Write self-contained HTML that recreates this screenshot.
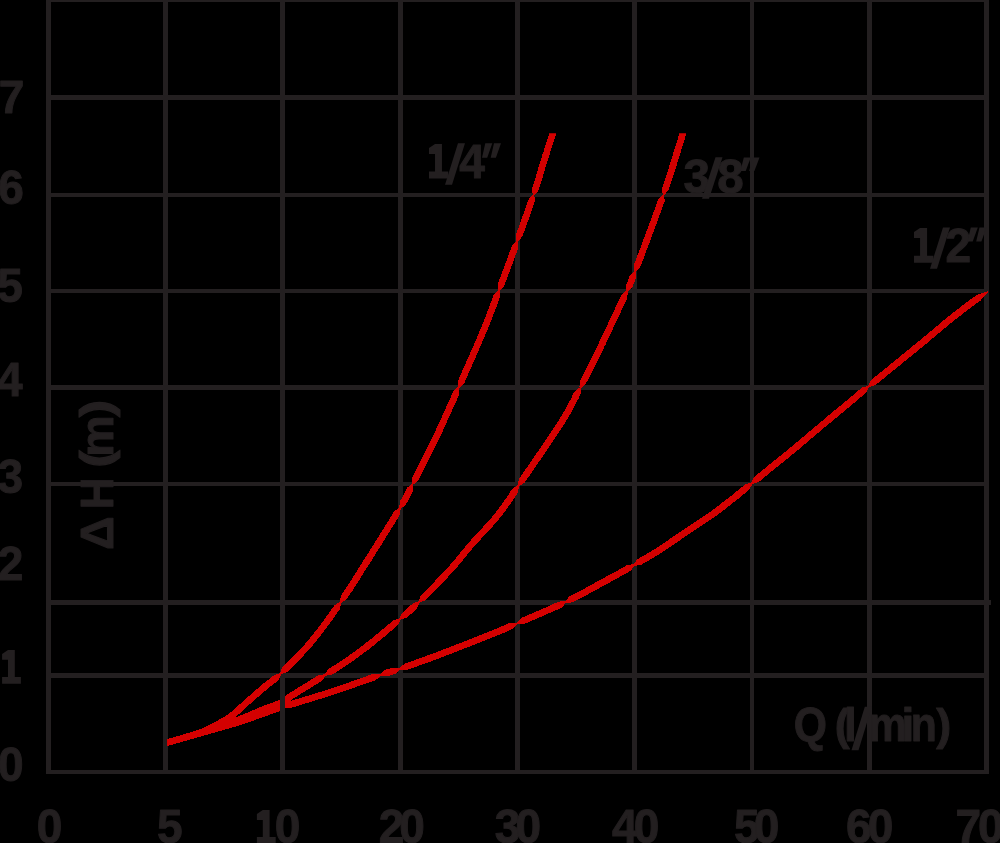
<!DOCTYPE html>
<html><head><meta charset="utf-8"><title>chart</title>
<style>
html,body{margin:0;padding:0;background:#000;}
body{width:1000px;height:843px;overflow:hidden;}
svg{display:block;will-change:transform;}
text{font-family:"Liberation Sans",sans-serif;font-weight:bold;}
</style></head><body>
<svg width="1000" height="843" viewBox="0 0 1000 843">
<rect width="1000" height="843" fill="#000"/>
<g fill="#231f20" shape-rendering="crispEdges">
<rect x="46" y="0" width="5" height="774"/>
<rect x="163" y="0" width="5" height="774"/>
<rect x="280" y="0" width="5" height="774"/>
<rect x="398" y="0" width="5" height="774"/>
<rect x="515" y="0" width="5" height="774"/>
<rect x="632" y="0" width="5" height="774"/>
<rect x="750" y="0" width="4" height="774"/>
<rect x="867" y="0" width="5" height="774"/>
<rect x="984" y="0" width="5" height="774"/>
<rect x="46" y="0" width="943" height="2"/>
<rect x="46" y="95" width="943" height="5"/>
<rect x="46" y="193" width="943" height="4"/>
<rect x="46" y="289" width="943" height="4"/>
<rect x="46" y="385" width="943" height="5"/>
<rect x="46" y="482" width="943" height="4"/>
<rect x="46" y="600" width="943" height="5"/>
<rect x="46" y="673" width="943" height="5"/>
<rect x="46" y="770" width="943" height="4"/>
</g>
<g fill="#231f20" stroke="#231f20" stroke-linejoin="round">
<text transform="translate(-1.27 113.22) scale(0.950 0.960)" font-size="48.5" stroke-width="1">7</text>
<text transform="translate(-1.63 203.90) scale(0.950 1.000)" font-size="48.5" stroke-width="1">6</text>
<text transform="translate(-2.72 301.50) scale(0.950 1.000)" font-size="48.5" stroke-width="1">5</text>
<text transform="translate(-3.05 395.50) scale(0.950 1.000)" font-size="48.5" stroke-width="1">4</text>
<text transform="translate(-2.53 492.90) scale(0.950 1.000)" font-size="48.5" stroke-width="1">3</text>
<text transform="translate(-2.35 580.10) scale(0.950 1.000)" font-size="48.5" stroke-width="1">2</text>
<path stroke="none" d="M2.10 683.80 L20.90 683.80 L20.90 677.00 L14.80 677.00 L14.80 650.00 L8.00 650.00 L2.10 653.90 L2.10 659.80 L8.00 659.80 L8.00 677.00 L2.10 677.00Z"/>
<text transform="translate(-1.91 781.20) scale(0.950 1.000)" font-size="48.5" stroke-width="1">0</text>
<text transform="translate(36.65 843.10) scale(0.950 1.000)" font-size="48.5" stroke-width="1">0</text>
<text transform="translate(157.06 843.10) scale(0.950 1.000)" font-size="48.5" stroke-width="1">5</text>
<path stroke="none" d="M256.90 843.90 L275.70 843.90 L275.70 837.10 L269.60 837.10 L269.60 810.10 L262.80 810.10 L256.90 814.00 L256.90 819.90 L262.80 819.90 L262.80 837.10 L256.90 837.10Z"/>
<text transform="translate(274.75 843.10) scale(0.950 1.000)" font-size="48.5" stroke-width="1">0</text>
<text transform="translate(378.68 843.10) scale(0.950 1.000)" font-size="48.5" stroke-width="1">2</text>
<text transform="translate(399.29 843.10) scale(0.950 1.000)" font-size="48.5" stroke-width="1">0</text>
<text transform="translate(494.82 843.10) scale(0.950 1.000)" font-size="48.5" stroke-width="1">3</text>
<text transform="translate(515.59 843.10) scale(0.950 1.000)" font-size="48.5" stroke-width="1">0</text>
<text transform="translate(611.98 843.10) scale(0.950 1.000)" font-size="48.5" stroke-width="1">4</text>
<text transform="translate(633.69 843.10) scale(0.950 1.000)" font-size="48.5" stroke-width="1">0</text>
<text transform="translate(733.96 843.10) scale(0.950 1.000)" font-size="48.5" stroke-width="1">5</text>
<text transform="translate(753.79 843.10) scale(0.950 1.000)" font-size="48.5" stroke-width="1">0</text>
<text transform="translate(845.99 843.10) scale(0.950 1.000)" font-size="48.5" stroke-width="1">6</text>
<text transform="translate(867.79 843.10) scale(0.950 1.000)" font-size="48.5" stroke-width="1">0</text>
<text transform="translate(955.60 843.10) scale(0.950 1.000)" font-size="48.5" stroke-width="1">7</text>
<text transform="translate(977.95 843.10) scale(0.950 1.000)" font-size="48.5" stroke-width="1">0</text>
<path stroke="none" d="M429.00 178.50 L448.19 178.50 L448.19 171.56 L441.96 171.56 L441.96 144.00 L435.02 144.00 L429.00 147.98 L429.00 154.00 L435.02 154.00 L435.02 171.56 L429.00 171.56Z"/>
<path stroke="none" d="M445.00 184.80 L452.00 184.80 L465.00 143.20 L458.00 143.20Z"/>
<text transform="translate(459.28 178.00) scale(0.950 1.000)" font-size="48.5" stroke-width="1">4</text>
<path stroke="none" d="M485.30 143.20 L492.30 143.20 L487.20 157.80 L482.00 157.80Z"/>
<path stroke="none" d="M494.00 143.20 L501.00 143.20 L495.90 157.80 L490.70 157.80Z"/>
<text transform="translate(683.40 192.50) scale(0.980 1.000)" font-size="48.5" stroke-width="1">3</text>
<path stroke="none" d="M702.00 198.80 L709.00 198.80 L722.50 157.30 L715.50 157.30Z"/>
<text transform="translate(717.28 192.50) scale(0.980 1.000)" font-size="48.5" stroke-width="1">8</text>
<path stroke="none" d="M743.80 157.50 L750.80 157.50 L745.70 171.00 L740.50 171.00Z"/>
<path stroke="none" d="M752.50 157.50 L759.50 157.50 L754.40 171.00 L749.20 171.00Z"/>
<path stroke="none" d="M914.00 262.80 L933.36 262.80 L933.36 255.80 L927.08 255.80 L927.08 228.00 L920.07 228.00 L914.00 232.02 L914.00 238.09 L920.07 238.09 L920.07 255.80 L914.00 255.80Z"/>
<path stroke="none" d="M930.00 268.80 L937.00 268.80 L950.00 227.50 L943.00 227.50Z"/>
<text transform="translate(945.38 262.30) scale(0.950 1.000)" font-size="48.5" stroke-width="1">2</text>
<path stroke="none" d="M970.80 227.50 L977.80 227.50 L972.70 241.50 L967.50 241.50Z"/>
<path stroke="none" d="M979.50 227.50 L986.50 227.50 L981.40 241.50 L976.20 241.50Z"/>
<text transform="translate(793.69 741.40) scale(0.880 1.000)" font-size="48.5" stroke-width="1">Q</text>
<text transform="translate(834.68 740.10) scale(1.030 1.000)" font-size="43.6" stroke-width="1">(</text>
<text transform="translate(843.89 741.40) scale(0.980 1.000)" font-size="46.8" stroke-width="1">l</text>
<path stroke="none" d="M851.50 750.20 L858.50 750.20 L871.80 706.80 L864.80 706.80Z"/>
<text transform="translate(868.63 741.40) scale(0.880 1.000)" font-size="48.5" stroke-width="1">m</text>
<text transform="translate(901.59 741.40) scale(0.980 1.000)" font-size="46.8" stroke-width="1">i</text>
<text transform="translate(910.83 741.40) scale(0.880 1.000)" font-size="48.5" stroke-width="1">n</text>
<text transform="translate(936.37 740.10) scale(1.030 1.000)" font-size="43.6" stroke-width="1">)</text>
<text transform="translate(112.70 550.08) rotate(-90) scale(1.030 1.000)" font-size="45.5" stroke-width="1">Δ</text>
<text transform="translate(112.70 509.27) rotate(-90) scale(0.970 1.000)" font-size="45.5" stroke-width="1">H</text>
<text transform="translate(111.30 467.83) rotate(-90) scale(1.200 1.000)" font-size="44" stroke-width="1">(</text>
<text transform="translate(112.70 456.67) rotate(-90) scale(1.000 1.000)" font-size="46.5" stroke-width="1">m</text>
<text transform="translate(111.30 417.25) rotate(-90) scale(1.200 1.000)" font-size="44" stroke-width="1">)</text>
</g>
<defs><clipPath id="cc"><rect x="167.3" y="133.3" width="840" height="640"/></clipPath></defs>
<g fill="#d40000" clip-path="url(#cc)" shape-rendering="crispEdges">
<path d="M160.7 747.6 161.2 747.5 161.8 747.3 162.5 747.2 163.4 747.0 164.5 746.8 165.8 746.4 167.5 746.0 168.7 745.6 169.5 745.4 170.3 745.2 171.1 745.0 172.0 744.7 172.9 744.4 173.9 744.2 174.9 743.9 176.0 743.6 177.0 743.3 178.1 742.9 179.2 742.6 180.3 742.3 181.4 742.0 182.5 741.7 183.6 741.3 184.6 741.0 185.7 740.7 186.7 740.4 187.7 740.1 188.7 739.8 189.6 739.5 190.6 739.2 191.6 738.9 192.7 738.6 193.7 738.3 194.7 737.9 195.7 737.6 196.7 737.3 197.7 737.0 198.6 736.7 199.6 736.4 200.5 736.1 201.4 735.8 202.4 735.4 203.4 735.1 204.3 734.7 205.3 734.3 206.3 733.9 207.3 733.5 208.2 733.1 209.1 732.6 210.1 732.2 211.0 731.7 212.0 731.2 212.9 730.7 213.9 730.3 214.8 729.8 215.7 729.3 216.7 728.8 217.6 728.3 218.5 727.8 219.4 727.3 220.2 726.8 221.1 726.3 221.9 725.9 222.7 725.4 223.7 724.8 224.6 724.3 225.5 723.8 226.3 723.3 227.2 722.8 228.0 722.3 228.8 721.7 229.6 721.2 230.5 720.6 231.3 720.0 232.2 719.4 233.1 718.7 234.1 718.0 235.1 717.2 235.8 716.7 236.5 716.1 237.2 715.5 238.0 714.8 238.7 714.2 239.5 713.5 240.3 712.8 241.0 712.1 241.8 711.4 242.6 710.7 243.4 710.0 244.2 709.3 245.0 708.5 245.8 707.8 246.6 707.1 247.4 706.4 248.1 705.7 248.9 705.0 249.7 704.3 250.5 703.6 251.2 702.9 252.0 702.3 252.7 701.6 253.5 700.9 254.3 700.3 255.0 699.6 255.8 698.9 256.5 698.3 257.3 697.6 258.1 696.9 258.8 696.3 259.6 695.6 260.4 695.0 261.1 694.3 261.9 693.7 262.6 693.0 263.4 692.4 264.2 691.7 264.9 691.1 265.7 690.4 266.4 689.8 267.2 689.2 267.9 688.5 268.6 688.0 269.3 687.4 270.0 686.9 270.6 686.4 271.3 685.9 271.9 685.4 272.6 684.9 273.3 684.4 274.0 683.8 274.7 683.3 275.4 682.7 276.2 682.1 277.0 681.4 277.8 680.7 278.6 679.7 279.2 678.5 279.8 677.2 280.5 675.9 281.1 674.4 279.9 673.0 278.4 673.6 277.0 674.1 275.7 674.6 274.4 675.0 273.5 675.6 272.7 676.3 271.9 676.9 271.2 677.5 270.5 678.0 269.9 678.5 269.2 679.0 268.5 679.5 267.9 680.0 267.2 680.5 266.5 681.1 265.9 681.6 265.1 682.2 264.4 682.7 263.6 683.4 262.8 684.0 262.1 684.7 261.3 685.3 260.6 686.0 259.8 686.6 259.0 687.3 258.3 687.9 257.5 688.6 256.8 689.2 256.0 689.9 255.2 690.6 254.5 691.2 253.7 691.9 252.9 692.5 252.2 693.2 251.4 693.9 250.6 694.5 249.9 695.2 249.1 695.9 248.3 696.5 247.6 697.2 246.8 697.9 246.0 698.6 245.2 699.3 244.4 700.0 243.6 700.7 242.8 701.4 242.1 702.1 241.3 702.9 240.5 703.6 239.7 704.3 238.9 705.0 238.1 705.7 237.3 706.4 236.6 707.1 235.8 707.8 235.1 708.5 234.3 709.1 233.6 709.7 232.9 710.3 232.2 710.9 231.6 711.5 230.9 712.0 230.0 712.7 229.1 713.4 228.3 714.0 227.5 714.6 226.7 715.1 225.9 715.6 225.2 716.1 224.4 716.6 223.7 717.0 222.9 717.5 222.1 718.0 221.2 718.5 220.3 719.0 219.3 719.6 218.5 720.1 217.7 720.5 216.9 721.0 216.1 721.5 215.2 721.9 214.4 722.4 213.5 722.9 212.6 723.4 211.7 723.8 210.8 724.3 209.9 724.8 209.0 725.2 208.1 725.7 207.2 726.1 206.3 726.5 205.4 727.0 204.5 727.3 203.7 727.7 202.8 728.1 201.9 728.5 201.0 728.8 200.1 729.1 199.2 729.5 198.3 729.8 197.4 730.1 196.5 730.4 195.6 730.7 194.7 730.9 193.8 731.2 192.8 731.5 191.8 731.8 190.7 732.2 189.7 732.5 188.6 732.8 187.6 733.1 186.7 733.4 185.7 733.7 184.8 734.0 183.8 734.3 182.7 734.6 181.7 734.9 180.6 735.2 179.5 735.6 178.4 735.9 177.3 736.2 176.2 736.5 175.2 736.8 174.1 737.1 173.1 737.4 172.1 737.7 171.1 738.0 170.2 738.3 169.3 738.5 168.4 738.8 167.7 739.0 166.9 739.2 165.7 739.5 164.1 739.9 162.9 740.2 161.9 740.5 161.1 740.6 160.4 740.8 159.8 740.9 159.3 741.0Z M281.1 674.4 281.9 674.1 282.7 673.8 283.5 673.4 284.3 673.1 285.1 672.8 286.0 672.4 286.8 672.1 287.6 671.6 288.2 670.9 288.9 670.3 289.5 669.7 290.2 669.0 290.9 668.3 291.6 667.6 292.3 667.0 293.0 666.3 293.7 665.5 294.5 664.8 295.2 664.1 295.9 663.4 296.7 662.6 297.4 661.9 298.2 661.1 299.0 660.3 299.7 659.5 300.5 658.8 301.2 658.0 302.0 657.2 302.8 656.4 303.5 655.6 304.3 654.7 305.1 653.9 305.8 653.1 306.6 652.3 307.4 651.4 308.1 650.6 308.9 649.7 309.6 648.9 310.4 648.0 311.1 647.2 311.8 646.3 312.6 645.5 313.2 644.7 313.8 644.0 314.4 643.3 315.0 642.6 315.6 641.8 316.2 641.1 316.8 640.3 317.4 639.6 318.0 638.8 318.6 638.1 319.2 637.3 319.8 636.5 320.4 635.7 321.0 635.0 321.6 634.2 322.2 633.4 322.8 632.6 323.4 631.8 324.1 631.0 324.7 630.2 325.3 629.4 325.9 628.6 326.5 627.8 327.1 626.9 327.7 626.1 328.3 625.3 328.9 624.5 329.5 623.6 330.1 622.8 330.7 622.0 331.4 621.1 332.0 620.3 332.6 619.4 333.2 618.6 333.8 617.8 334.4 616.9 335.0 616.1 335.6 615.2 336.2 614.3 336.8 613.5 337.4 612.6 338.0 611.8 338.6 610.9 339.2 610.0 339.8 609.1 340.0 608.0 340.3 606.9 340.5 605.8 340.8 604.7 341.0 603.6 340.4 602.5 339.2 602.3 338.2 602.9 337.3 603.5 336.3 604.1 335.4 604.8 334.4 605.4 333.8 606.2 333.1 607.1 332.5 607.9 331.9 608.8 331.3 609.6 330.7 610.5 330.1 611.3 329.5 612.2 328.9 613.0 328.3 613.9 327.7 614.7 327.1 615.5 326.5 616.4 325.9 617.2 325.3 618.0 324.7 618.9 324.1 619.7 323.5 620.5 322.9 621.3 322.3 622.1 321.7 622.9 321.1 623.8 320.5 624.6 319.9 625.4 319.3 626.2 318.7 627.0 318.1 627.7 317.5 628.5 316.9 629.3 316.3 630.1 315.7 630.9 315.1 631.6 314.5 632.4 313.9 633.1 313.3 633.9 312.7 634.6 312.2 635.4 311.6 636.1 311.0 636.9 310.4 637.6 309.8 638.3 309.2 639.0 308.6 639.7 308.0 640.4 307.4 641.1 306.7 642.0 306.0 642.8 305.3 643.6 304.6 644.5 303.9 645.3 303.1 646.1 302.4 646.9 301.6 647.7 300.9 648.5 300.2 649.4 299.4 650.2 298.7 651.0 297.9 651.7 297.2 652.5 296.4 653.3 295.7 654.1 294.9 654.9 294.2 655.6 293.4 656.4 292.7 657.1 291.9 657.9 291.2 658.6 290.5 659.3 289.8 660.1 289.0 660.8 288.3 661.5 287.6 662.2 286.9 662.9 286.2 663.5 285.5 664.2 284.9 664.8 284.2 665.5 283.6 666.1 282.9 666.7 282.4 667.4 282.0 668.3 281.6 669.1 281.2 669.9 280.9 670.7 280.5 671.5 280.2 672.3 279.9 673.0Z M341.2 603.0 342.0 602.5 342.9 601.9 343.8 601.3 344.6 600.7 345.5 600.1 346.4 599.5 347.0 598.8 347.5 597.9 348.1 597.1 348.6 596.3 349.2 595.5 349.7 594.6 350.3 593.8 350.8 593.0 351.4 592.1 351.9 591.3 352.5 590.5 353.0 589.6 353.6 588.8 354.1 587.9 354.7 587.1 355.2 586.2 355.8 585.4 356.3 584.5 356.8 583.7 357.4 582.8 357.9 582.0 358.5 581.1 359.0 580.2 359.6 579.4 360.1 578.5 360.7 577.7 361.2 576.8 361.7 575.9 362.3 575.1 362.8 574.2 363.4 573.4 363.9 572.5 364.4 571.6 365.0 570.8 365.5 569.9 366.1 569.0 366.6 568.2 367.2 567.3 367.7 566.5 368.2 565.6 368.8 564.7 369.3 563.9 369.8 563.0 370.4 562.2 370.9 561.3 371.5 560.5 372.0 559.6 372.5 558.8 373.1 557.9 373.6 557.1 374.1 556.2 374.7 555.3 375.2 554.5 375.8 553.6 376.3 552.7 376.9 551.8 377.5 550.9 378.0 550.0 378.6 549.1 379.2 548.2 379.8 547.3 380.3 546.4 380.9 545.5 381.5 544.5 382.1 543.6 382.6 542.7 383.2 541.8 383.8 540.8 384.4 539.9 385.0 539.0 385.5 538.1 386.1 537.1 386.7 536.2 387.3 535.3 387.8 534.4 388.4 533.4 389.0 532.5 389.6 531.6 390.1 530.7 390.7 529.8 391.2 528.9 391.8 528.0 392.3 527.1 392.9 526.3 393.4 525.4 393.9 524.5 394.5 523.7 395.0 522.8 395.5 522.0 396.0 521.1 396.5 520.3 397.0 519.5 397.5 518.7 398.0 517.9 398.5 517.1 399.0 516.3 399.4 515.6 399.8 514.7 399.9 513.8 400.0 512.9 400.2 512.0 400.3 511.2 400.5 510.3 400.6 509.5 400.7 508.7 399.1 507.7 398.4 508.2 397.8 508.7 397.1 509.2 396.4 509.8 395.7 510.3 395.0 510.9 394.2 511.4 393.7 512.1 393.2 512.9 392.8 513.6 392.3 514.4 391.8 515.2 391.3 516.0 390.8 516.8 390.3 517.6 389.8 518.5 389.3 519.3 388.8 520.2 388.2 521.0 387.7 521.9 387.2 522.7 386.6 523.6 386.1 524.5 385.5 525.4 385.0 526.3 384.4 527.2 383.9 528.1 383.3 529.0 382.7 529.9 382.2 530.8 381.6 531.7 381.0 532.7 380.4 533.6 379.9 534.5 379.3 535.4 378.7 536.4 378.1 537.3 377.5 538.2 377.0 539.1 376.4 540.1 375.8 541.0 375.2 541.9 374.7 542.8 374.1 543.7 373.5 544.6 372.9 545.5 372.4 546.4 371.8 547.3 371.2 548.2 370.7 549.1 370.1 550.0 369.6 550.9 369.0 551.8 368.5 552.6 367.9 553.5 367.4 554.3 366.9 555.2 366.3 556.0 365.8 556.9 365.2 557.8 364.7 558.6 364.2 559.5 363.6 560.3 363.1 561.2 362.6 562.0 362.0 562.9 361.5 563.8 360.9 564.6 360.4 565.5 359.9 566.3 359.3 567.2 358.8 568.1 358.2 568.9 357.7 569.8 357.2 570.7 356.6 571.5 356.1 572.4 355.5 573.2 355.0 574.1 354.4 574.9 353.9 575.8 353.4 576.7 352.8 577.5 352.3 578.4 351.7 579.2 351.2 580.1 350.7 580.9 350.1 581.8 349.6 582.6 349.0 583.4 348.5 584.3 347.9 585.1 347.4 586.0 346.9 586.8 346.3 587.6 345.8 588.5 345.2 589.3 344.7 590.1 344.1 590.9 343.6 591.8 343.1 592.6 342.5 593.4 342.0 594.2 341.4 595.0 341.0 595.9 340.7 596.9 340.5 597.9 340.3 598.9 340.1 599.9 339.9 601.0 339.6 602.0Z M400.7 508.7 402.0 507.7 403.2 506.8 404.3 505.9 405.3 505.1 406.1 504.2 406.6 503.3 407.1 502.4 407.5 501.6 408.0 500.8 408.4 500.0 408.8 499.3 409.2 498.6 409.5 497.8 409.9 497.1 410.2 496.4 410.6 495.7 410.9 495.0 411.3 494.3 411.7 493.5 412.1 492.7 412.5 491.8 412.9 491.0 413.1 489.8 413.2 488.6 413.3 487.3 413.4 485.9 413.5 484.4 411.9 483.6 410.7 484.6 409.7 485.5 408.7 486.4 407.8 487.2 406.9 488.0 406.5 488.9 406.1 489.7 405.7 490.5 405.3 491.3 404.9 492.0 404.6 492.7 404.2 493.4 403.9 494.1 403.6 494.8 403.2 495.5 402.8 496.2 402.5 496.9 402.1 497.6 401.7 498.4 401.2 499.2 400.7 500.0 400.2 500.9 399.9 502.0 399.7 503.3 399.5 504.7 399.3 506.1 399.1 507.7Z M413.5 484.4 414.2 483.9 414.8 483.3 415.5 482.7 416.2 482.1 416.8 481.5 417.5 480.9 418.3 480.3 418.7 479.6 419.1 478.8 419.6 478.0 420.0 477.1 420.4 476.3 420.8 475.5 421.3 474.6 421.7 473.7 422.2 472.9 422.6 472.0 423.1 471.1 423.5 470.2 424.0 469.3 424.4 468.4 424.9 467.5 425.4 466.5 425.9 465.6 426.3 464.7 426.8 463.7 427.3 462.8 427.8 461.8 428.2 460.9 428.7 459.9 429.2 458.9 429.7 458.0 430.2 457.0 430.7 456.0 431.2 455.1 431.6 454.1 432.1 453.1 432.6 452.1 433.1 451.1 433.6 450.2 434.1 449.2 434.5 448.2 435.0 447.2 435.5 446.2 436.0 445.3 436.4 444.3 436.9 443.3 437.4 442.4 437.8 441.4 438.3 440.4 438.7 439.5 439.1 438.6 439.6 437.8 440.0 436.9 440.4 436.0 440.8 435.1 441.2 434.2 441.6 433.3 442.0 432.5 442.5 431.6 442.9 430.7 443.3 429.8 443.7 428.9 444.1 428.0 444.5 427.1 444.9 426.2 445.4 425.3 445.8 424.4 446.2 423.5 446.6 422.6 447.0 421.7 447.4 420.7 447.8 419.8 448.2 418.9 448.7 418.0 449.1 417.1 449.5 416.2 449.9 415.2 450.3 414.3 450.7 413.4 451.1 412.5 451.6 411.5 452.0 410.6 452.4 409.7 452.8 408.8 453.2 407.8 453.6 406.9 454.1 406.0 454.5 405.0 454.9 404.1 455.3 403.1 455.7 402.2 456.2 401.3 456.6 400.3 457.0 399.4 457.4 398.4 457.8 397.5 458.3 396.5 458.7 395.6 459.1 394.6 459.3 393.5 459.3 392.4 459.3 391.3 459.4 390.1 459.4 389.0 459.5 387.9 457.7 387.1 456.9 387.9 456.1 388.7 455.3 389.5 454.5 390.3 453.7 391.1 453.0 391.9 452.6 392.8 452.1 393.8 451.7 394.7 451.3 395.7 450.9 396.6 450.5 397.6 450.0 398.5 449.6 399.5 449.2 400.4 448.8 401.4 448.4 402.3 447.9 403.2 447.5 404.2 447.1 405.1 446.7 406.0 446.3 407.0 445.9 407.9 445.4 408.8 445.0 409.7 444.6 410.7 444.2 411.6 443.8 412.5 443.4 413.4 443.0 414.3 442.6 415.2 442.1 416.2 441.7 417.1 441.3 418.0 440.9 418.9 440.5 419.8 440.1 420.7 439.7 421.6 439.3 422.5 438.8 423.4 438.4 424.3 438.0 425.2 437.6 426.1 437.2 427.0 436.8 427.9 436.4 428.7 436.0 429.6 435.6 430.5 435.1 431.4 434.7 432.3 434.3 433.1 433.9 434.0 433.5 434.9 433.1 435.8 432.7 436.6 432.2 437.5 431.8 438.5 431.3 439.5 430.9 440.4 430.4 441.4 429.9 442.3 429.5 443.3 429.0 444.3 428.5 445.3 428.0 446.2 427.6 447.2 427.1 448.2 426.6 449.2 426.1 450.1 425.6 451.1 425.2 452.1 424.7 453.0 424.2 454.0 423.7 455.0 423.2 455.9 422.7 456.9 422.3 457.9 421.8 458.8 421.3 459.8 420.8 460.7 420.3 461.6 419.9 462.6 419.4 463.5 418.9 464.4 418.5 465.4 418.0 466.3 417.5 467.2 417.1 468.1 416.6 468.9 416.2 469.8 415.7 470.7 415.3 471.6 414.9 472.4 414.4 473.3 414.0 474.1 413.6 474.9 413.2 475.7 412.8 476.5 412.4 477.3 412.3 478.3 412.3 479.2 412.2 480.1 412.1 481.0 412.0 481.9 411.9 482.7 411.9 483.6Z M459.5 387.9 460.2 387.2 461.0 386.4 461.7 385.7 462.5 384.9 463.3 384.2 464.0 383.4 464.5 382.5 464.9 381.6 465.3 380.7 465.7 379.7 466.1 378.8 466.6 377.9 467.0 376.9 467.4 376.0 467.8 375.0 468.2 374.1 468.7 373.1 469.1 372.1 469.5 371.2 470.0 370.2 470.4 369.2 470.8 368.3 471.2 367.3 471.7 366.3 472.1 365.4 472.5 364.4 472.9 363.4 473.4 362.5 473.8 361.5 474.2 360.5 474.6 359.6 475.1 358.6 475.5 357.7 475.9 356.7 476.3 355.7 476.7 354.8 477.2 353.8 477.6 352.9 478.0 351.9 478.4 351.0 478.8 350.1 479.2 349.1 479.6 348.2 480.0 347.3 480.4 346.4 480.8 345.5 481.2 344.6 481.6 343.6 482.0 342.8 482.3 341.9 482.7 341.0 483.1 340.1 483.5 339.2 483.8 338.4 484.2 337.5 484.5 336.7 484.9 335.8 485.2 335.0 485.6 334.2 485.9 333.4 486.3 332.4 486.8 331.3 487.2 330.3 487.7 329.2 488.1 328.2 488.5 327.1 488.9 326.1 489.3 325.2 489.7 324.2 490.1 323.2 490.4 322.3 490.8 321.3 491.2 320.4 491.5 319.5 491.9 318.6 492.2 317.7 492.6 316.8 492.9 315.9 493.3 315.0 493.6 314.1 493.9 313.3 494.3 312.4 494.6 311.5 494.9 310.7 495.3 309.8 495.6 308.9 495.9 308.1 496.2 307.2 496.6 306.3 496.9 305.4 497.2 304.5 497.5 303.7 497.9 302.8 498.2 301.9 498.6 300.9 498.9 300.0 499.2 299.1 499.6 298.1 499.7 297.1 499.7 296.0 499.7 294.8 499.6 293.7 499.6 292.5 499.6 291.3 497.8 290.7 497.0 291.5 496.2 292.4 495.4 293.3 494.7 294.1 493.9 294.9 493.3 295.8 493.0 296.7 492.6 297.7 492.3 298.6 491.9 299.5 491.6 300.4 491.3 301.3 490.9 302.2 490.6 303.1 490.3 304.0 490.0 304.8 489.6 305.7 489.3 306.6 489.0 307.4 488.7 308.3 488.3 309.2 488.0 310.0 487.7 310.9 487.3 311.7 487.0 312.6 486.7 313.5 486.3 314.4 486.0 315.3 485.7 316.1 485.3 317.0 484.9 318.0 484.6 318.9 484.2 319.8 483.8 320.7 483.5 321.7 483.1 322.7 482.7 323.6 482.3 324.6 481.9 325.6 481.5 326.7 481.0 327.7 480.6 328.8 480.1 329.9 479.7 330.8 479.4 331.6 479.1 332.4 478.7 333.3 478.4 334.1 478.0 334.9 477.7 335.8 477.3 336.6 476.9 337.5 476.6 338.4 476.2 339.2 475.8 340.1 475.4 341.0 475.0 341.9 474.6 342.8 474.3 343.7 473.9 344.6 473.5 345.5 473.1 346.5 472.7 347.4 472.3 348.3 471.8 349.3 471.4 350.2 471.0 351.2 470.6 352.1 470.2 353.1 469.8 354.0 469.4 355.0 468.9 355.9 468.5 356.9 468.1 357.8 467.7 358.8 467.2 359.8 466.8 360.7 466.4 361.7 466.0 362.7 465.5 363.6 465.1 364.6 464.7 365.6 464.3 366.5 463.8 367.5 463.4 368.5 463.0 369.4 462.5 370.4 462.1 371.3 461.7 372.3 461.3 373.2 460.9 374.2 460.4 375.1 460.0 376.1 459.6 377.0 459.2 378.0 458.8 378.9 458.4 379.8 458.0 380.7 457.9 381.8 457.9 382.9 457.9 384.0 457.8 385.0 457.8 386.1 457.7 387.1Z M499.6 291.3 500.2 290.6 500.9 289.9 501.6 289.1 502.3 288.4 503.0 287.6 503.7 286.9 504.2 286.0 504.5 285.1 504.8 284.2 505.2 283.3 505.5 282.3 505.9 281.4 506.2 280.5 506.6 279.5 506.9 278.6 507.3 277.6 507.6 276.7 508.0 275.7 508.4 274.8 508.7 273.8 509.1 272.8 509.4 271.9 509.8 270.9 510.2 269.9 510.5 269.0 510.9 268.0 511.2 267.0 511.6 266.0 512.0 265.1 512.3 264.1 512.7 263.1 513.0 262.1 513.4 261.1 513.8 260.2 514.1 259.2 514.5 258.2 514.8 257.3 515.2 256.3 515.5 255.3 515.9 254.3 516.3 253.4 516.6 252.4 517.0 251.5 517.3 250.5 517.6 249.6 518.0 248.6 518.3 247.7 518.3 246.6 518.2 245.5 518.2 244.5 518.2 243.4 518.1 242.4 518.1 241.3 516.3 240.7 515.6 241.5 514.9 242.2 514.2 243.0 513.5 243.8 512.8 244.6 512.1 245.4 511.7 246.3 511.4 247.3 511.0 248.2 510.7 249.2 510.3 250.1 510.0 251.1 509.6 252.0 509.3 253.0 508.9 254.0 508.5 254.9 508.2 255.9 507.8 256.9 507.5 257.9 507.1 258.8 506.8 259.8 506.4 260.8 506.0 261.8 505.7 262.7 505.3 263.7 505.0 264.7 504.6 265.7 504.2 266.6 503.9 267.6 503.5 268.6 503.2 269.5 502.8 270.5 502.4 271.5 502.1 272.4 501.7 273.4 501.4 274.3 501.0 275.3 500.7 276.2 500.3 277.2 500.0 278.1 499.6 279.1 499.3 280.0 498.9 280.9 498.6 281.8 498.2 282.7 497.9 283.7 497.7 284.6 497.7 285.6 497.7 286.7 497.8 287.7 497.8 288.7 497.8 289.7 497.8 290.7Z M518.1 241.3 518.8 240.5 519.6 239.6 520.4 238.8 521.1 237.9 521.9 237.1 522.5 236.2 522.9 235.2 523.2 234.2 523.6 233.2 524.0 232.1 524.3 231.1 524.7 230.1 525.1 229.1 525.4 228.1 525.8 227.1 526.1 226.1 526.5 225.1 526.9 224.1 527.2 223.1 527.6 222.2 527.9 221.2 528.3 220.2 528.6 219.2 529.0 218.2 529.3 217.2 529.7 216.3 530.0 215.3 530.3 214.3 530.7 213.4 531.0 212.4 531.4 211.5 531.7 210.5 532.0 209.6 532.3 208.7 532.7 207.7 533.0 206.8 533.3 205.9 533.6 205.0 533.9 204.1 534.2 203.2 534.5 202.4 534.7 201.5 534.7 200.5 534.6 199.5 534.6 198.6 534.5 197.6 534.5 196.7 534.4 195.8 533.5 195.0 532.3 195.0 531.7 195.7 531.1 196.5 530.5 197.2 529.9 197.9 529.2 198.6 528.6 199.4 528.2 200.2 527.9 201.1 527.6 201.9 527.3 202.8 527.0 203.7 526.7 204.6 526.3 205.5 526.0 206.5 525.7 207.4 525.4 208.3 525.0 209.2 524.7 210.2 524.4 211.1 524.0 212.1 523.7 213.1 523.3 214.0 523.0 215.0 522.7 216.0 522.3 216.9 522.0 217.9 521.6 218.9 521.3 219.9 520.9 220.9 520.5 221.9 520.2 222.9 519.8 223.9 519.5 224.9 519.1 225.9 518.7 226.9 518.4 227.9 518.0 228.9 517.7 229.9 517.3 230.9 516.9 231.9 516.6 232.9 516.2 233.9 516.1 235.0 516.2 236.1 516.2 237.3 516.2 238.4 516.3 239.5 516.3 240.7Z M534.4 195.3 535.3 194.3 536.1 193.3 536.9 192.3 537.7 191.3 538.5 190.4 538.9 189.3 539.2 188.2 539.5 187.2 539.9 186.2 540.2 185.2 540.5 184.2 540.8 183.2 541.1 182.3 541.4 181.3 541.6 180.4 541.9 179.4 542.2 178.5 542.5 177.6 542.7 176.7 543.0 175.8 543.3 174.9 543.5 174.0 543.8 173.1 544.0 172.2 544.3 171.3 544.6 170.4 544.9 169.5 545.1 168.6 545.4 167.7 545.7 166.8 546.0 165.9 546.3 165.0 546.6 164.0 546.9 163.0 547.2 162.0 547.5 161.0 547.8 159.9 548.2 158.9 548.5 157.9 548.8 156.8 549.2 155.7 549.5 154.7 549.8 153.6 550.2 152.5 550.5 151.5 550.9 150.4 551.2 149.4 551.5 148.3 551.9 147.3 552.2 146.3 552.5 145.3 552.8 144.3 553.1 143.3 553.4 142.4 553.7 141.4 554.0 140.5 554.3 139.6 554.6 138.8 554.8 138.0 555.1 137.2 555.3 136.4 555.6 135.7 555.8 135.0 556.0 134.3 556.6 132.4 557.1 130.9 557.5 129.5 557.8 128.4 558.1 127.5 558.3 126.7 558.5 126.0 558.7 125.5 558.9 125.0 559.0 124.5 552.6 122.5 552.4 123.0 552.3 123.6 552.1 124.1 551.9 124.8 551.7 125.5 551.4 126.5 551.1 127.6 550.7 128.9 550.2 130.4 549.6 132.3 549.4 132.9 549.2 133.6 549.0 134.4 548.7 135.1 548.5 135.9 548.2 136.7 547.9 137.6 547.6 138.5 547.3 139.4 547.1 140.3 546.7 141.3 546.4 142.2 546.1 143.2 545.8 144.2 545.5 145.3 545.1 146.3 544.8 147.3 544.5 148.4 544.1 149.4 543.8 150.5 543.5 151.6 543.1 152.6 542.8 153.7 542.4 154.8 542.1 155.8 541.8 156.9 541.4 157.9 541.1 159.0 540.8 160.0 540.5 161.0 540.2 162.0 539.9 163.0 539.6 163.9 539.3 164.9 539.0 165.8 538.7 166.7 538.4 167.6 538.2 168.5 537.9 169.4 537.6 170.3 537.4 171.2 537.1 172.1 536.8 173.0 536.6 173.9 536.3 174.8 536.0 175.7 535.8 176.6 535.5 177.5 535.2 178.5 534.9 179.4 534.7 180.3 534.4 181.3 534.1 182.2 533.8 183.2 533.5 184.2 533.2 185.2 532.8 186.2 532.5 187.3 532.2 188.3 532.3 189.5 532.4 190.8 532.4 192.1 532.5 193.4 532.6 194.7Z"/>
<path d="M160.6 747.6 160.9 747.5 161.0 747.5 161.5 747.5 162.2 747.4 163.3 747.1 164.8 746.7 167.0 746.1 168.7 745.6 169.3 745.5 170.0 745.3 170.7 745.1 171.4 744.9 172.2 744.6 173.0 744.4 173.8 744.2 174.7 743.9 175.5 743.7 176.4 743.4 177.4 743.1 178.3 742.9 179.3 742.6 180.3 742.3 181.3 742.0 182.3 741.7 183.4 741.4 184.4 741.1 185.5 740.8 186.6 740.4 187.6 740.1 188.7 739.8 189.8 739.5 190.9 739.1 192.0 738.8 193.1 738.5 194.2 738.2 195.3 737.8 196.3 737.5 197.4 737.2 198.5 736.9 199.5 736.5 200.6 736.2 201.6 735.9 202.6 735.6 203.6 735.3 204.6 734.9 205.6 734.6 206.5 734.3 207.5 734.0 208.5 733.7 209.5 733.4 210.5 733.0 211.5 732.7 212.5 732.4 213.5 732.0 214.5 731.7 215.5 731.4 216.5 731.0 217.5 730.7 218.5 730.4 219.5 730.0 220.5 729.7 221.5 729.3 222.5 729.0 223.5 728.7 224.5 728.3 225.5 728.0 226.5 727.6 227.4 727.3 228.4 727.0 229.3 726.6 230.3 726.3 231.2 726.0 232.1 725.6 233.1 725.3 234.0 725.0 234.9 724.7 235.7 724.3 236.6 724.0 237.5 723.7 238.3 723.4 239.2 723.1 240.0 722.8 240.8 722.5 241.8 722.1 242.9 721.7 244.1 721.2 245.2 720.8 246.3 720.4 247.3 719.9 248.3 719.5 249.3 719.1 250.3 718.7 251.3 718.3 252.2 717.9 253.1 717.5 254.0 717.1 254.9 716.7 255.8 716.3 256.7 715.9 257.5 715.6 258.4 715.2 259.2 714.8 260.1 714.5 260.9 714.1 261.7 713.7 262.6 713.4 263.4 713.1 264.2 712.7 265.3 712.3 266.3 711.9 267.3 711.5 268.4 711.1 269.4 710.7 270.5 710.4 271.5 710.0 272.6 709.6 273.6 709.2 274.6 708.9 275.6 708.5 276.6 708.2 277.6 707.8 278.5 707.5 279.4 707.1 280.3 706.8 281.2 706.4 282.0 706.1 282.8 705.7 283.6 705.4 282.5 702.2 280.7 699.3 280.1 699.6 279.4 699.9 278.7 700.2 277.9 700.5 277.0 700.9 276.2 701.2 275.2 701.5 274.3 701.9 273.3 702.2 272.3 702.6 271.3 702.9 270.3 703.3 269.2 703.7 268.2 704.1 267.1 704.5 266.0 704.8 265.0 705.2 263.9 705.7 262.8 706.1 261.8 706.5 260.9 706.8 260.0 707.2 259.1 707.6 258.3 707.9 257.4 708.3 256.6 708.7 255.7 709.0 254.8 709.4 254.0 709.8 253.1 710.2 252.2 710.6 251.4 710.9 250.5 711.3 249.6 711.7 248.6 712.1 247.7 712.5 246.7 712.9 245.8 713.3 244.8 713.7 243.8 714.1 242.7 714.6 241.6 715.0 240.5 715.4 239.4 715.8 238.4 716.2 237.6 716.5 236.8 716.8 236.0 717.1 235.2 717.4 234.3 717.7 233.5 718.0 232.6 718.4 231.7 718.7 230.8 719.0 229.9 719.3 229.0 719.6 228.0 720.0 227.1 720.3 226.2 720.6 225.2 721.0 224.2 721.3 223.3 721.6 222.3 722.0 221.3 722.3 220.4 722.7 219.4 723.0 218.4 723.3 217.4 723.7 216.4 724.0 215.4 724.3 214.4 724.7 213.4 725.0 212.4 725.4 211.4 725.7 210.4 726.0 209.4 726.3 208.4 726.7 207.4 727.0 206.4 727.3 205.4 727.6 204.5 728.0 203.5 728.3 202.6 728.6 201.6 728.9 200.6 729.2 199.6 729.5 198.6 729.8 197.6 730.1 196.5 730.4 195.5 730.8 194.4 731.1 193.3 731.4 192.2 731.7 191.2 732.1 190.1 732.4 189.0 732.7 187.9 733.1 186.8 733.4 185.7 733.7 184.7 734.0 183.6 734.3 182.5 734.6 181.5 735.0 180.4 735.3 179.4 735.6 178.4 735.8 177.4 736.1 176.5 736.4 175.5 736.7 174.6 737.0 173.7 737.2 172.8 737.5 171.9 737.7 171.1 738.0 170.3 738.2 169.6 738.4 168.8 738.6 168.1 738.8 167.5 739.0 166.9 739.2 165.2 739.7 163.1 740.3 161.7 740.6 160.9 740.8 160.6 740.8 160.4 740.9 159.9 740.9 159.4 741.0Z M282.9 703.0 284.6 702.9 286.1 702.6 287.4 702.3 288.5 701.9 289.5 701.5 290.2 700.9 290.8 700.4 291.3 700.0 291.9 699.5 292.8 699.0 293.6 698.4 294.4 697.9 295.3 697.3 296.1 696.8 297.0 696.3 297.9 695.7 298.8 695.1 299.6 694.6 300.4 694.1 301.2 693.6 302.0 693.1 302.9 692.6 303.7 692.1 304.6 691.5 305.6 691.0 306.6 690.4 307.4 689.9 308.2 689.3 309.1 688.8 309.9 688.3 310.8 687.7 311.7 687.1 312.7 686.6 313.6 686.0 314.5 685.4 315.4 684.9 316.3 684.3 317.2 683.8 318.0 683.3 318.7 682.9 319.4 682.4 320.2 682.0 320.9 681.6 321.7 681.1 322.4 680.3 323.1 679.4 323.8 678.3 324.7 677.1 325.7 675.8 324.7 674.2 323.1 674.5 321.6 674.7 320.4 675.0 319.2 675.1 318.2 675.4 317.5 675.8 316.7 676.2 316.0 676.7 315.3 677.1 314.5 677.6 313.7 678.1 312.8 678.6 311.9 679.2 311.0 679.7 310.1 680.3 309.1 680.9 308.2 681.4 307.3 682.0 306.4 682.6 305.5 683.1 304.7 683.6 303.8 684.2 303.0 684.6 302.1 685.2 301.1 685.8 300.2 686.4 299.4 686.9 298.5 687.4 297.7 687.9 296.9 688.4 296.0 688.9 295.2 689.5 294.3 690.0 293.4 690.6 292.6 691.1 291.7 691.7 290.8 692.2 289.9 692.8 289.0 693.4 288.1 694.1 287.2 694.7 286.4 695.4 285.7 696.0 285.2 696.6 284.8 697.4 284.4 698.2 283.9 699.1 283.1 700.1 282.1 701.4Z M325.7 675.8 326.5 675.6 327.4 675.5 328.2 675.3 329.2 675.2 330.1 675.0 331.1 674.8 332.1 674.6 332.9 674.1 333.8 673.6 334.6 673.1 335.5 672.5 336.4 671.9 337.3 671.4 338.2 670.8 339.2 670.2 340.1 669.6 341.0 669.0 342.0 668.4 342.9 667.8 343.8 667.2 344.8 666.5 345.7 665.9 346.6 665.3 347.6 664.7 348.5 664.1 349.3 663.5 350.1 662.9 350.9 662.4 351.6 661.9 352.4 661.3 353.2 660.8 354.0 660.2 354.7 659.7 355.5 659.1 356.3 658.6 357.0 658.0 357.8 657.5 358.6 656.9 359.4 656.3 360.2 655.7 361.0 655.2 361.8 654.6 362.6 654.0 363.4 653.4 364.2 652.7 365.0 652.1 365.9 651.5 366.7 650.8 367.6 650.1 368.5 649.5 369.3 648.8 370.2 648.1 371.2 647.4 372.1 646.6 372.8 646.1 373.5 645.5 374.2 644.9 374.9 644.3 375.7 643.7 376.5 643.1 377.2 642.5 378.0 641.9 378.8 641.2 379.6 640.5 380.4 639.9 381.2 639.2 382.0 638.5 382.8 637.9 383.7 637.2 384.5 636.5 385.3 635.8 386.2 635.1 387.0 634.4 387.8 633.7 388.6 633.0 389.5 632.3 390.3 631.6 391.1 631.0 391.9 630.3 392.7 629.6 393.5 628.9 394.3 628.3 395.1 627.6 395.9 626.9 396.6 626.3 397.4 625.7 397.9 624.8 398.4 623.9 398.9 623.1 399.3 622.2 399.8 621.3 400.2 620.5 400.6 619.7 399.4 618.3 398.5 618.6 397.7 618.9 396.7 619.2 395.8 619.5 394.9 619.8 393.9 620.1 393.0 620.6 392.3 621.2 391.5 621.8 390.7 622.5 390.0 623.1 389.2 623.8 388.4 624.5 387.6 625.2 386.8 625.8 386.0 626.5 385.2 627.2 384.3 627.9 383.5 628.6 382.7 629.3 381.9 630.0 381.0 630.7 380.2 631.3 379.4 632.0 378.6 632.7 377.8 633.4 376.9 634.1 376.1 634.7 375.3 635.4 374.5 636.0 373.8 636.7 373.0 637.3 372.2 637.9 371.5 638.5 370.7 639.1 370.0 639.7 369.3 640.3 368.6 640.8 367.9 641.4 367.0 642.1 366.1 642.8 365.2 643.5 364.3 644.2 363.5 644.8 362.6 645.5 361.8 646.1 361.0 646.8 360.2 647.4 359.4 648.0 358.6 648.6 357.8 649.2 357.0 649.8 356.2 650.3 355.4 650.9 354.7 651.5 353.9 652.0 353.1 652.6 352.4 653.1 351.6 653.7 350.8 654.2 350.1 654.8 349.3 655.3 348.6 655.8 347.8 656.4 347.0 656.9 346.3 657.4 345.5 658.0 344.7 658.5 343.8 659.1 342.9 659.7 342.0 660.4 341.1 661.0 340.2 661.6 339.2 662.2 338.3 662.8 337.4 663.4 336.5 664.0 335.6 664.5 334.6 665.1 333.7 665.7 332.8 666.3 331.9 666.8 331.1 667.4 330.2 667.9 329.4 668.4 328.5 669.0 327.9 669.8 327.3 670.6 326.8 671.4 326.2 672.1 325.7 672.8 325.2 673.5 324.7 674.2Z M400.6 619.7 401.9 619.3 403.1 618.9 404.3 618.5 405.3 618.1 406.4 617.8 407.2 617.2 407.9 616.6 408.6 616.0 409.3 615.5 410.0 614.9 410.7 614.3 411.3 613.7 412.0 613.2 412.6 612.6 413.3 612.0 414.0 611.4 414.7 610.7 415.4 610.1 416.1 609.4 416.9 608.7 417.4 607.6 418.0 606.5 418.5 605.3 419.1 604.0 419.7 602.7 418.3 601.3 417.0 601.9 415.7 602.4 414.5 602.9 413.4 603.3 412.3 603.8 411.6 604.5 410.8 605.2 410.2 605.8 409.5 606.4 408.8 607.0 408.2 607.6 407.5 608.1 406.9 608.7 406.3 609.2 405.6 609.8 405.0 610.4 404.3 610.9 403.6 611.5 402.9 612.1 402.2 612.9 401.7 613.9 401.2 614.9 400.6 616.0 400.0 617.1 399.4 618.3Z M419.7 602.7 420.5 602.3 421.3 602.0 422.1 601.6 423.0 601.3 423.9 600.9 424.8 600.5 425.7 600.1 426.4 599.4 427.0 598.7 427.7 598.0 428.4 597.3 429.1 596.6 429.9 595.9 430.6 595.1 431.3 594.4 432.1 593.6 432.8 592.9 433.6 592.1 434.3 591.4 435.1 590.6 435.8 589.8 436.6 589.0 437.4 588.2 438.1 587.4 438.9 586.7 439.6 585.9 440.4 585.1 441.1 584.3 441.9 583.5 442.6 582.7 443.4 582.0 444.1 581.2 444.8 580.4 445.6 579.7 446.3 578.9 447.0 578.2 447.7 577.4 448.3 576.7 449.0 576.0 449.7 575.3 450.3 574.6 451.0 573.9 451.6 573.2 452.2 572.6 452.9 571.8 453.7 570.9 454.5 570.1 455.2 569.2 456.0 568.3 456.7 567.5 457.4 566.7 458.1 565.9 458.8 565.1 459.4 564.3 460.1 563.5 460.7 562.7 461.4 561.9 462.0 561.2 462.6 560.4 463.2 559.7 463.8 558.9 464.4 558.2 465.0 557.4 465.6 556.7 466.2 556.0 466.8 555.2 467.4 554.5 468.0 553.8 468.6 553.0 469.3 552.3 469.9 551.6 470.5 550.8 471.1 550.1 471.8 549.3 472.4 548.6 473.1 547.8 473.7 547.0 474.4 546.3 475.0 545.6 475.7 544.8 476.4 544.1 477.1 543.3 477.8 542.5 478.5 541.8 479.2 541.0 479.9 540.2 480.6 539.5 481.3 538.7 482.1 537.9 482.8 537.1 483.5 536.3 484.2 535.6 485.0 534.8 485.7 534.0 486.4 533.2 487.1 532.5 487.8 531.7 488.5 531.0 489.2 530.2 489.9 529.4 490.6 528.7 491.3 528.0 491.9 527.2 492.6 526.5 493.2 525.8 493.9 525.1 494.5 524.4 495.1 523.7 495.7 523.0 496.3 522.3 497.0 521.5 497.7 520.5 498.5 519.6 499.2 518.7 500.0 517.8 500.7 516.9 501.3 516.1 502.0 515.2 502.6 514.4 503.3 513.6 503.9 512.8 504.5 512.0 505.0 511.2 505.6 510.4 506.2 509.6 506.7 508.8 507.3 508.1 507.8 507.3 508.3 506.6 508.9 505.8 509.4 505.1 509.9 504.4 510.4 503.7 510.9 502.9 511.6 502.0 512.1 501.2 512.6 500.5 513.1 499.8 513.5 499.2 513.9 498.6 514.3 498.0 514.6 497.5 515.0 496.9 515.4 496.3 515.8 495.6 516.3 494.8 516.9 494.0 517.5 493.0 517.9 491.7 518.3 490.2 518.6 488.4 519.1 486.3 517.5 485.3 515.8 486.4 514.3 487.5 512.9 488.4 511.9 489.3 511.3 490.3 510.7 491.2 510.2 492.0 509.7 492.7 509.3 493.3 509.0 493.9 508.6 494.4 508.3 495.0 507.9 495.5 507.5 496.1 507.1 496.7 506.6 497.4 506.1 498.2 505.5 499.1 505.0 499.8 504.4 500.5 503.9 501.2 503.4 502.0 502.9 502.7 502.4 503.4 501.8 504.2 501.3 504.9 500.7 505.7 500.2 506.4 499.6 507.2 499.1 508.0 498.5 508.7 497.9 509.5 497.3 510.3 496.7 511.1 496.0 512.0 495.4 512.8 494.7 513.6 494.0 514.5 493.3 515.4 492.6 516.3 491.8 517.2 491.2 518.0 490.6 518.6 490.0 519.3 489.5 519.9 488.9 520.6 488.2 521.3 487.6 522.0 487.0 522.7 486.3 523.4 485.7 524.2 485.0 524.9 484.3 525.7 483.6 526.4 482.9 527.2 482.2 527.9 481.5 528.7 480.8 529.5 480.1 530.2 479.3 531.0 478.6 531.8 477.9 532.6 477.2 533.3 476.4 534.1 475.7 534.9 475.0 535.7 474.3 536.5 473.5 537.2 472.8 538.0 472.1 538.8 471.4 539.6 470.7 540.3 470.1 541.1 469.4 541.9 468.7 542.6 468.0 543.4 467.3 544.2 466.7 545.0 466.0 545.7 465.4 546.5 464.7 547.3 464.1 548.0 463.5 548.8 462.9 549.5 462.3 550.3 461.6 551.0 461.0 551.7 460.4 552.5 459.8 553.2 459.2 554.0 458.6 554.7 458.0 555.4 457.4 556.2 456.8 556.9 456.2 557.7 455.6 558.4 455.0 559.2 454.3 560.0 453.7 560.8 453.0 561.5 452.3 562.3 451.6 563.1 450.9 563.9 450.2 564.8 449.5 565.6 448.7 566.4 447.9 567.3 447.2 568.1 446.6 568.7 446.0 569.4 445.4 570.0 444.8 570.7 444.1 571.4 443.5 572.1 442.8 572.9 442.1 573.6 441.4 574.3 440.7 575.1 440.0 575.8 439.3 576.6 438.5 577.3 437.8 578.1 437.1 578.9 436.3 579.7 435.6 580.4 434.8 581.2 434.1 582.0 433.3 582.8 432.5 583.6 431.8 584.3 431.0 585.1 430.3 585.9 429.5 586.7 428.8 587.4 428.0 588.2 427.3 589.0 426.6 589.7 425.8 590.4 425.1 591.2 424.4 591.9 423.7 592.6 423.0 593.3 422.3 594.0 421.6 594.7 420.9 595.4 420.5 596.3 420.1 597.2 419.8 598.0 419.4 598.9 419.0 599.7 418.7 600.5 418.3 601.3Z M519.1 486.3 519.7 485.9 520.3 485.5 521.0 485.1 521.7 484.6 522.4 484.1 523.1 483.6 523.9 483.1 524.6 482.6 525.1 481.8 525.6 481.1 526.1 480.3 526.7 479.5 527.2 478.7 527.8 477.9 528.4 477.1 529.0 476.2 529.6 475.4 530.2 474.5 530.8 473.6 531.4 472.7 532.0 471.9 532.6 470.9 533.3 470.0 533.9 469.1 534.5 468.2 535.2 467.3 535.8 466.3 536.5 465.4 537.1 464.5 537.8 463.5 538.4 462.6 539.1 461.7 539.7 460.7 540.3 459.8 541.0 458.9 541.6 457.9 542.3 457.0 542.9 456.1 543.5 455.2 544.1 454.3 544.7 453.4 545.4 452.5 546.0 451.6 546.5 450.8 547.1 449.9 547.7 449.1 548.3 448.3 548.8 447.4 549.4 446.6 549.9 445.9 550.4 445.1 550.9 444.3 551.4 443.6 551.9 442.9 552.4 442.2 553.0 441.3 553.7 440.2 554.4 439.2 555.1 438.1 555.7 437.1 556.4 436.1 557.0 435.1 557.7 434.2 558.3 433.2 558.9 432.3 559.5 431.4 560.0 430.5 560.6 429.7 561.2 428.8 561.7 428.0 562.2 427.1 562.7 426.3 563.3 425.5 563.8 424.7 564.3 423.9 564.8 423.1 565.2 422.4 565.7 421.6 566.2 420.8 566.7 420.0 567.1 419.3 567.6 418.5 568.1 417.7 568.5 417.0 569.0 416.2 569.4 415.4 569.9 414.6 570.3 413.9 570.8 413.1 571.4 412.1 571.9 411.1 572.5 410.1 573.0 409.2 573.5 408.3 574.0 407.3 574.5 406.4 574.9 405.5 575.4 404.6 575.9 403.8 576.3 402.9 576.7 402.0 577.2 401.1 577.6 400.3 578.0 399.4 578.5 398.5 578.9 397.7 579.3 396.8 579.7 395.9 580.2 395.0 580.5 394.1 580.6 393.0 580.7 391.9 580.8 390.8 580.9 389.7 581.0 388.5 580.2 387.5 578.9 387.5 578.0 388.2 577.2 389.0 576.3 389.8 575.5 390.5 574.7 391.2 574.2 392.1 573.7 393.0 573.3 393.9 572.9 394.7 572.4 395.6 572.0 396.5 571.6 397.3 571.2 398.2 570.8 399.0 570.3 399.9 569.9 400.7 569.4 401.6 569.0 402.4 568.5 403.3 568.1 404.2 567.6 405.1 567.1 406.0 566.6 406.9 566.1 407.8 565.6 408.8 565.0 409.7 564.6 410.5 564.1 411.3 563.7 412.0 563.2 412.8 562.8 413.5 562.3 414.3 561.9 415.0 561.4 415.8 560.9 416.5 560.5 417.3 560.0 418.1 559.5 418.8 559.1 419.6 558.6 420.4 558.1 421.1 557.6 421.9 557.1 422.7 556.6 423.5 556.1 424.4 555.5 425.2 555.0 426.0 554.4 426.9 553.9 427.8 553.3 428.7 552.7 429.6 552.1 430.5 551.4 431.5 550.8 432.4 550.2 433.4 549.5 434.4 548.8 435.5 548.1 436.5 547.4 437.6 546.8 438.5 546.3 439.2 545.9 439.9 545.4 440.6 544.9 441.3 544.3 442.1 543.8 442.9 543.3 443.7 542.7 444.5 542.2 445.3 541.6 446.1 541.0 447.0 540.4 447.9 539.8 448.7 539.2 449.6 538.6 450.5 538.0 451.4 537.4 452.3 536.7 453.2 536.1 454.1 535.5 455.1 534.8 456.0 534.2 456.9 533.5 457.9 532.9 458.8 532.3 459.7 531.6 460.7 531.0 461.6 530.3 462.5 529.7 463.5 529.0 464.4 528.4 465.3 527.8 466.2 527.1 467.1 526.5 468.0 525.9 468.9 525.3 469.8 524.7 470.7 524.1 471.6 523.5 472.4 522.9 473.3 522.3 474.1 521.7 474.9 521.2 475.7 520.6 476.5 520.1 477.3 519.6 478.0 519.1 478.8 518.8 479.6 518.6 480.5 518.4 481.4 518.2 482.2 518.0 483.0 517.8 483.8 517.7 484.6 517.5 485.3Z M581.0 387.9 581.8 387.3 582.6 386.6 583.4 385.9 584.2 385.2 585.0 384.5 585.8 383.8 586.3 382.9 586.8 381.9 587.3 381.0 587.8 380.1 588.2 379.1 588.7 378.2 589.2 377.2 589.7 376.3 590.2 375.3 590.7 374.4 591.1 373.4 591.6 372.5 592.1 371.5 592.6 370.6 593.0 369.7 593.5 368.7 594.0 367.8 594.4 366.9 594.9 366.0 595.3 365.2 595.7 364.3 596.2 363.4 596.6 362.6 597.0 361.8 597.4 361.0 597.9 360.1 598.4 359.0 598.9 358.0 599.4 357.0 599.9 356.0 600.3 355.0 600.8 354.1 601.3 353.2 601.7 352.3 602.1 351.4 602.6 350.5 603.0 349.6 603.4 348.8 603.8 347.9 604.2 347.1 604.6 346.2 605.0 345.3 605.5 344.5 605.9 343.6 606.3 342.7 606.7 341.8 607.2 340.9 607.6 339.9 608.0 339.1 608.5 338.2 608.9 337.3 609.3 336.4 609.7 335.5 610.2 334.6 610.6 333.7 611.0 332.8 611.4 331.9 611.9 331.0 612.3 330.1 612.7 329.2 613.1 328.3 613.6 327.3 614.0 326.4 614.4 325.5 614.9 324.6 615.3 323.6 615.8 322.7 616.2 321.7 616.7 320.7 617.1 319.8 617.6 318.8 618.0 317.8 618.4 317.0 618.8 316.1 619.3 315.2 619.7 314.3 620.1 313.4 620.5 312.5 621.0 311.6 621.4 310.6 621.8 309.7 622.3 308.8 622.7 307.8 623.2 306.9 623.6 305.9 624.1 305.0 624.5 304.0 625.0 303.1 625.4 302.1 625.8 301.2 626.3 300.3 626.7 299.3 627.1 298.4 627.4 297.5 627.4 296.4 627.5 295.4 627.5 294.3 627.6 293.3 627.6 292.3 627.7 291.4 625.9 290.6 625.3 291.3 624.5 292.0 623.8 292.7 623.1 293.4 622.3 294.1 621.6 294.8 621.0 295.6 620.6 296.5 620.2 297.4 619.8 298.4 619.3 299.3 618.9 300.2 618.4 301.2 618.0 302.1 617.6 303.1 617.1 304.0 616.7 305.0 616.2 305.9 615.8 306.9 615.3 307.8 614.9 308.7 614.5 309.6 614.0 310.6 613.6 311.5 613.2 312.4 612.8 313.3 612.4 314.1 612.0 315.0 611.5 316.0 611.0 316.9 610.6 317.9 610.1 318.9 609.7 319.8 609.3 320.8 608.8 321.7 608.4 322.6 607.9 323.6 607.5 324.5 607.1 325.4 606.7 326.3 606.2 327.2 605.8 328.1 605.4 329.0 605.0 329.9 604.5 330.8 604.1 331.7 603.7 332.6 603.3 333.5 602.8 334.4 602.4 335.3 602.0 336.2 601.6 337.1 601.1 338.0 600.7 338.9 600.3 339.8 599.8 340.7 599.4 341.6 599.0 342.4 598.6 343.3 598.2 344.2 597.8 345.0 597.4 345.9 596.9 346.7 596.5 347.6 596.1 348.5 595.7 349.3 595.2 350.2 594.8 351.2 594.3 352.1 593.9 353.0 593.4 354.0 592.9 355.0 592.4 356.0 591.9 357.1 591.4 358.0 591.0 358.8 590.6 359.6 590.2 360.4 589.8 361.3 589.3 362.1 588.9 363.0 588.4 363.9 588.0 364.8 587.5 365.7 587.1 366.6 586.6 367.6 586.1 368.5 585.6 369.4 585.2 370.4 584.7 371.3 584.2 372.3 583.7 373.2 583.2 374.2 582.7 375.1 582.3 376.1 581.8 377.0 581.3 378.0 580.8 378.9 580.4 379.8 579.9 380.8 579.8 381.8 579.7 382.9 579.6 384.0 579.5 385.0 579.5 386.1 579.4 387.1Z M627.7 291.4 628.5 290.6 629.2 289.9 629.9 289.3 630.4 288.8 630.9 288.3 631.4 287.9 631.8 287.5 632.3 287.1 632.5 286.6 632.8 286.1 633.1 285.5 633.3 284.8 633.7 284.1 634.0 283.2 634.4 282.2 634.8 281.1 635.4 279.8 635.9 278.4 636.0 276.4 635.9 274.2 635.9 271.7 634.1 271.1 632.4 272.9 630.9 274.5 629.7 275.9 629.1 277.4 628.6 278.7 628.2 279.7 627.8 280.7 627.5 281.5 627.2 282.2 626.9 282.8 626.7 283.3 626.5 283.8 626.3 284.3 626.3 284.8 626.2 285.4 626.2 286.0 626.1 286.7 626.1 287.5 626.0 288.4 626.0 289.4 625.9 290.6Z M635.9 271.7 636.3 271.2 636.8 270.7 637.3 270.2 637.8 269.6 638.4 269.0 638.9 268.4 639.5 267.8 640.0 267.2 640.4 266.5 640.7 265.8 641.0 265.0 641.3 264.2 641.6 263.4 641.9 262.6 642.2 261.8 642.6 260.9 642.9 260.1 643.2 259.2 643.6 258.3 643.9 257.4 644.2 256.5 644.6 255.6 644.9 254.7 645.3 253.7 645.6 252.8 646.0 251.8 646.4 250.8 646.7 249.9 647.1 248.9 647.5 247.9 647.9 246.9 648.2 245.9 648.6 244.9 649.0 243.8 649.4 242.8 649.8 241.8 650.2 240.8 650.5 239.7 650.9 238.7 651.3 237.6 651.7 236.6 652.1 235.5 652.5 234.5 652.9 233.4 653.3 232.3 653.7 231.3 654.1 230.2 654.5 229.1 654.9 228.1 655.3 227.0 655.7 225.9 656.1 224.9 656.5 223.8 656.9 222.8 657.2 221.7 657.6 220.6 658.0 219.6 658.4 218.5 658.8 217.5 659.2 216.5 659.5 215.4 659.9 214.4 660.3 213.4 660.7 212.3 661.0 211.3 661.4 210.3 661.8 209.3 662.1 208.3 662.5 207.3 662.8 206.3 663.2 205.4 663.5 204.4 663.9 203.5 664.2 202.5 664.5 201.6 664.5 200.6 664.5 199.5 664.4 198.5 664.4 197.5 664.4 196.5 664.3 195.5 663.4 194.7 662.2 194.8 661.5 195.5 660.9 196.2 660.2 197.0 659.6 197.8 658.9 198.5 658.2 199.3 657.9 200.3 657.6 201.2 657.2 202.2 656.9 203.1 656.5 204.1 656.2 205.1 655.8 206.0 655.5 207.0 655.1 208.0 654.7 209.0 654.4 210.0 654.0 211.1 653.6 212.1 653.3 213.1 652.9 214.2 652.5 215.2 652.1 216.2 651.7 217.3 651.3 218.3 651.0 219.4 650.6 220.4 650.2 221.5 649.8 222.6 649.4 223.6 649.0 224.7 648.6 225.7 648.2 226.8 647.8 227.9 647.4 228.9 647.0 230.0 646.6 231.1 646.2 232.1 645.8 233.2 645.4 234.2 645.1 235.3 644.7 236.3 644.3 237.4 643.9 238.4 643.5 239.4 643.1 240.5 642.7 241.5 642.3 242.5 642.0 243.5 641.6 244.5 641.2 245.5 640.8 246.5 640.5 247.5 640.1 248.5 639.7 249.4 639.4 250.4 639.0 251.3 638.7 252.3 638.3 253.2 638.0 254.1 637.6 255.0 637.3 255.9 637.0 256.8 636.6 257.7 636.3 258.5 636.0 259.4 635.7 260.2 635.4 261.0 635.0 261.8 634.8 262.6 634.5 263.4 634.2 264.2 634.0 264.9 634.0 265.8 634.0 266.6 634.1 267.4 634.1 268.2 634.1 268.9 634.1 269.7 634.1 270.4 634.1 271.1Z M664.3 195.0 665.1 194.1 665.9 193.1 666.7 192.2 667.5 191.2 668.4 190.3 668.8 189.2 669.2 188.1 669.6 187.0 669.9 185.9 670.3 184.8 670.7 183.7 671.0 182.6 671.4 181.4 671.8 180.3 672.1 179.2 672.5 178.1 672.9 177.0 673.2 175.9 673.6 174.8 673.9 173.7 674.3 172.6 674.6 171.5 675.0 170.4 675.3 169.3 675.7 168.2 676.0 167.1 676.3 166.1 676.7 165.0 677.0 163.9 677.3 162.9 677.7 161.9 678.0 160.8 678.3 159.8 678.6 158.8 678.9 157.8 679.2 156.8 679.5 155.8 679.9 154.8 680.2 153.8 680.4 152.9 680.7 151.9 681.0 151.0 681.3 150.1 681.6 149.1 681.9 148.3 682.1 147.4 682.4 146.5 682.7 145.6 682.9 144.8 683.2 144.0 683.4 143.2 683.7 142.4 683.9 141.6 684.1 140.9 684.4 140.1 684.6 139.4 684.8 138.7 685.0 138.0 685.2 137.3 685.4 136.7 685.6 136.1 685.8 135.5 686.0 134.9 686.2 134.3 687.2 131.2 687.9 128.9 688.4 127.3 688.8 126.2 689.0 125.6 689.1 125.2 689.1 125.0 689.2 125.0 689.2 124.8 689.3 124.5 682.9 122.5 682.8 122.9 682.7 123.1 682.7 123.2 682.7 123.3 682.6 123.6 682.4 124.2 682.0 125.2 681.5 126.9 680.8 129.2 679.8 132.3 679.6 132.9 679.4 133.4 679.2 134.1 679.0 134.7 678.8 135.3 678.6 136.0 678.4 136.7 678.2 137.4 678.0 138.1 677.7 138.9 677.5 139.6 677.3 140.4 677.0 141.2 676.8 142.0 676.5 142.8 676.3 143.7 676.0 144.5 675.7 145.4 675.5 146.3 675.2 147.2 674.9 148.1 674.6 149.0 674.3 149.9 674.0 150.9 673.7 151.8 673.4 152.8 673.1 153.8 672.8 154.8 672.5 155.8 672.2 156.8 671.9 157.8 671.6 158.8 671.3 159.9 670.9 160.9 670.6 161.9 670.3 163.0 669.9 164.1 669.6 165.1 669.3 166.2 668.9 167.3 668.6 168.4 668.2 169.4 667.9 170.5 667.5 171.6 667.2 172.7 666.8 173.8 666.5 174.9 666.1 176.0 665.8 177.1 665.4 178.2 665.0 179.3 664.7 180.5 664.3 181.6 663.9 182.7 663.6 183.8 663.2 184.9 662.8 186.0 662.5 187.1 662.2 188.2 662.3 189.4 662.3 190.7 662.4 191.9 662.5 193.2 662.5 194.4Z"/>
<path d="M160.7 747.6 161.0 747.5 161.1 747.5 161.6 747.4 162.3 747.3 163.3 747.1 164.8 746.7 167.0 746.1 168.7 745.6 169.3 745.5 170.0 745.3 170.7 745.1 171.4 744.9 172.2 744.7 173.0 744.4 173.9 744.2 174.7 743.9 175.6 743.7 176.5 743.4 177.5 743.2 178.5 742.9 179.4 742.6 180.5 742.3 181.5 742.0 182.5 741.7 183.6 741.4 184.6 741.1 185.7 740.8 186.8 740.5 187.9 740.2 189.0 739.9 190.1 739.6 191.2 739.2 192.3 738.9 193.4 738.6 194.5 738.3 195.6 738.0 196.7 737.7 197.8 737.4 198.9 737.1 199.9 736.8 201.0 736.4 202.0 736.2 203.0 735.9 204.0 735.6 205.0 735.3 205.9 735.0 206.9 734.7 207.9 734.4 209.0 734.1 210.0 733.9 211.0 733.6 212.0 733.3 213.1 733.0 214.1 732.7 215.1 732.4 216.2 732.1 217.2 731.8 218.2 731.5 219.2 731.2 220.3 730.9 221.3 730.6 222.3 730.3 223.3 730.0 224.3 729.8 225.3 729.5 226.3 729.2 227.3 728.9 228.3 728.6 229.3 728.3 230.3 728.0 231.2 727.8 232.2 727.5 233.1 727.2 234.0 726.9 235.0 726.7 235.9 726.4 236.7 726.1 237.6 725.8 238.5 725.6 239.3 725.3 240.2 725.1 241.0 724.8 242.2 724.4 243.4 724.0 244.5 723.7 245.6 723.3 246.7 722.9 247.8 722.6 248.8 722.2 249.8 721.8 250.8 721.5 251.7 721.1 252.7 720.8 253.6 720.5 254.5 720.1 255.4 719.8 256.3 719.5 257.2 719.1 258.1 718.8 258.9 718.5 259.8 718.2 260.6 717.9 261.5 717.6 262.4 717.3 263.2 717.0 264.1 716.7 265.1 716.3 266.1 716.0 267.0 715.7 267.8 715.4 268.7 715.1 269.5 714.8 270.3 714.5 271.1 714.2 271.9 714.0 272.7 713.7 273.5 713.4 274.4 713.1 275.2 712.9 276.2 712.6 277.1 712.2 278.1 711.9 279.2 711.6 280.3 711.2 281.5 710.8 282.8 710.4 282.5 707.0 280.8 704.0 279.5 704.4 278.3 704.8 277.1 705.2 276.0 705.5 275.0 705.9 274.1 706.2 273.1 706.5 272.3 706.8 271.4 707.1 270.6 707.4 269.8 707.6 268.9 707.9 268.1 708.2 267.3 708.5 266.5 708.7 265.7 709.0 264.8 709.3 263.9 709.7 262.9 710.0 261.9 710.3 261.0 710.6 260.1 711.0 259.2 711.3 258.4 711.6 257.5 711.9 256.6 712.2 255.8 712.5 254.9 712.9 254.0 713.2 253.1 713.5 252.2 713.8 251.3 714.2 250.4 714.5 249.5 714.8 248.5 715.2 247.6 715.5 246.6 715.9 245.6 716.2 244.6 716.6 243.5 716.9 242.4 717.3 241.3 717.7 240.2 718.0 239.0 718.4 238.2 718.7 237.4 718.9 236.5 719.2 235.7 719.4 234.8 719.7 233.9 720.0 233.0 720.2 232.1 720.5 231.2 720.8 230.3 721.1 229.3 721.3 228.4 721.6 227.4 721.9 226.4 722.2 225.5 722.5 224.5 722.7 223.5 723.0 222.5 723.3 221.5 723.6 220.5 723.9 219.4 724.2 218.4 724.5 217.4 724.8 216.4 725.1 215.3 725.4 214.3 725.7 213.3 725.9 212.3 726.2 211.2 726.5 210.2 726.8 209.2 727.1 208.1 727.4 207.1 727.7 206.1 728.0 205.1 728.3 204.1 728.6 203.1 728.9 202.1 729.1 201.1 729.4 200.1 729.7 199.1 730.0 198.1 730.3 197.0 730.6 195.9 730.9 194.9 731.2 193.8 731.5 192.7 731.9 191.6 732.2 190.5 732.5 189.4 732.8 188.3 733.1 187.2 733.4 186.1 733.8 185.0 734.1 183.9 734.4 182.8 734.7 181.7 735.0 180.7 735.3 179.6 735.6 178.6 735.9 177.6 736.2 176.6 736.4 175.7 736.7 174.7 737.0 173.8 737.2 172.9 737.5 172.0 737.7 171.2 738.0 170.4 738.2 169.6 738.4 168.9 738.6 168.2 738.8 167.5 739.0 166.9 739.2 165.2 739.6 163.1 740.2 161.7 740.6 160.9 740.8 160.5 740.8 160.2 740.9 159.8 740.9 159.3 741.0Z M282.8 707.9 283.6 708.0 284.5 708.0 285.4 708.1 286.4 708.2 287.3 708.3 288.3 708.3 289.4 708.4 290.3 708.1 291.3 707.8 292.2 707.5 293.2 707.2 294.3 706.9 295.3 706.6 296.3 706.2 297.4 705.9 298.4 705.6 299.5 705.3 300.6 704.9 301.7 704.6 302.7 704.3 303.8 704.0 304.9 703.6 305.9 703.3 307.0 703.0 308.1 702.7 309.1 702.4 310.1 702.0 311.2 701.7 312.2 701.4 313.2 701.1 314.1 700.8 315.1 700.5 316.0 700.2 316.9 700.0 317.8 699.7 318.6 699.4 319.5 699.2 320.2 698.9 321.0 698.7 322.3 698.3 323.5 697.9 324.6 697.6 325.6 697.3 326.5 697.0 327.4 696.7 328.2 696.4 329.0 696.2 329.8 695.9 330.5 695.7 331.2 695.5 332.0 695.2 332.7 695.0 333.5 694.7 334.4 694.4 335.3 694.1 336.3 693.8 337.3 693.5 338.5 693.1 339.7 692.6 341.1 692.2 341.8 691.9 342.6 691.7 343.4 691.4 344.2 691.1 345.0 690.8 345.9 690.5 346.8 690.2 347.7 689.9 348.6 689.6 349.6 689.2 350.6 688.9 351.6 688.5 352.6 688.2 353.6 687.8 354.6 687.5 355.7 687.1 356.7 686.7 357.8 686.4 358.8 686.0 359.9 685.6 361.0 685.2 362.0 684.9 363.1 684.5 364.1 684.1 365.2 683.7 366.3 683.4 367.3 683.0 368.3 682.6 369.3 682.3 370.4 681.9 371.4 681.6 372.3 681.2 373.3 680.9 374.2 680.6 375.2 680.3 376.0 679.8 376.8 679.1 377.5 678.5 378.2 677.9 378.9 677.3 379.6 676.7 380.2 676.2 380.2 675.0 379.5 674.1 378.7 674.0 377.8 674.0 376.9 673.9 375.9 673.9 374.9 673.9 373.9 673.8 373.0 673.9 372.0 674.3 371.1 674.6 370.1 674.9 369.1 675.3 368.1 675.6 367.1 676.0 366.1 676.3 365.1 676.7 364.0 677.1 363.0 677.4 361.9 677.8 360.9 678.2 359.8 678.5 358.7 678.9 357.7 679.3 356.6 679.7 355.5 680.0 354.5 680.4 353.4 680.8 352.4 681.1 351.4 681.5 350.4 681.9 349.4 682.2 348.4 682.6 347.4 682.9 346.4 683.2 345.5 683.6 344.6 683.9 343.7 684.2 342.8 684.5 342.0 684.8 341.2 685.1 340.4 685.3 339.6 685.6 338.9 685.8 337.6 686.3 336.3 686.7 335.2 687.1 334.1 687.5 333.2 687.8 332.3 688.1 331.4 688.4 330.6 688.6 329.9 688.9 329.2 689.1 328.4 689.3 327.7 689.6 327.0 689.8 326.2 690.0 325.4 690.3 324.5 690.6 323.6 690.9 322.6 691.2 321.5 691.5 320.3 691.9 319.0 692.3 318.2 692.5 317.5 692.8 316.6 693.0 315.8 693.3 314.9 693.6 314.0 693.8 313.1 694.1 312.2 694.4 311.2 694.7 310.2 695.0 309.2 695.3 308.2 695.6 307.2 695.9 306.1 696.3 305.1 696.6 304.0 696.9 302.9 697.2 301.9 697.6 300.8 697.9 299.7 698.2 298.6 698.5 297.6 698.9 296.5 699.2 295.4 699.5 294.4 699.8 293.3 700.1 292.3 700.5 291.3 700.8 290.3 701.1 289.3 701.4 288.3 701.7 287.4 702.0 286.6 702.6 285.8 703.2 285.0 703.8 284.3 704.4 283.6 705.0 282.9 705.6 282.2 706.1Z M380.5 675.9 382.1 676.0 383.5 676.1 384.8 676.2 385.9 676.3 387.0 676.3 387.8 676.1 388.6 675.8 389.4 675.6 390.1 675.4 390.9 675.2 391.6 675.0 392.3 674.8 393.1 674.6 393.9 674.3 394.8 674.0 395.6 673.6 396.5 672.9 397.5 672.1 398.5 671.2 399.7 670.2 400.0 668.8 398.9 667.9 397.4 667.8 396.0 667.7 394.8 667.6 393.7 667.5 392.8 667.6 392.0 667.9 391.2 668.1 390.4 668.3 389.7 668.6 389.0 668.8 388.3 669.0 387.5 669.2 386.8 669.4 385.9 669.7 385.0 669.9 384.2 670.6 383.2 671.3 382.2 672.2 381.1 673.1 379.9 674.1Z M400.3 669.7 401.1 669.7 401.9 669.8 402.8 669.8 403.7 669.9 404.5 669.9 405.4 669.9 406.4 670.0 407.2 669.8 408.1 669.5 408.9 669.2 409.8 668.9 410.7 668.6 411.5 668.3 412.4 668.0 413.3 667.7 414.3 667.4 415.2 667.0 416.1 666.7 417.1 666.4 418.0 666.0 419.0 665.7 420.0 665.3 421.0 665.0 421.9 664.6 422.9 664.3 424.0 663.9 425.0 663.5 426.0 663.2 427.0 662.8 428.0 662.4 429.1 662.0 430.1 661.7 431.1 661.3 432.2 660.9 433.2 660.5 434.3 660.1 435.4 659.7 436.4 659.3 437.5 658.9 438.5 658.5 439.6 658.1 440.7 657.7 441.6 657.4 442.5 657.0 443.3 656.7 444.2 656.4 445.1 656.0 446.0 655.7 447.0 655.3 447.9 655.0 448.8 654.6 449.8 654.3 450.7 653.9 451.7 653.5 452.7 653.1 453.7 652.7 454.7 652.4 455.7 652.0 456.7 651.6 457.7 651.2 458.7 650.8 459.7 650.4 460.7 650.0 461.7 649.6 462.7 649.2 463.7 648.8 464.8 648.4 465.8 648.0 466.8 647.6 467.8 647.2 468.8 646.8 469.8 646.4 470.8 646.0 471.8 645.7 472.8 645.3 473.8 644.9 474.8 644.5 475.7 644.1 476.7 643.7 477.7 643.3 478.6 643.0 479.5 642.6 480.5 642.2 481.4 641.9 482.3 641.5 483.2 641.1 484.1 640.8 484.9 640.4 485.8 640.1 486.6 639.8 487.4 639.4 488.2 639.1 489.0 638.8 489.8 638.5 490.5 638.2 491.3 637.9 492.5 637.4 493.8 636.9 494.9 636.4 496.0 636.0 497.0 635.6 498.0 635.2 498.9 634.8 499.8 634.4 500.6 634.1 501.5 633.7 502.3 633.4 503.0 633.1 503.8 632.8 504.5 632.5 505.3 632.1 506.0 631.8 506.8 631.5 507.5 631.2 508.3 630.8 509.1 630.5 510.0 630.1 510.8 629.7 511.7 629.3 512.7 628.9 513.5 628.1 514.4 627.3 515.3 626.3 516.3 625.3 517.4 624.3 516.6 622.5 515.1 622.6 513.7 622.6 512.4 622.7 511.2 622.7 510.0 622.8 509.1 623.2 508.2 623.6 507.3 624.0 506.5 624.3 505.7 624.7 504.9 625.0 504.1 625.3 503.4 625.7 502.6 626.0 501.9 626.3 501.2 626.6 500.4 626.9 499.7 627.2 498.9 627.6 498.1 627.9 497.2 628.2 496.4 628.6 495.4 629.0 494.5 629.4 493.5 629.8 492.4 630.2 491.2 630.7 490.0 631.2 488.7 631.7 488.0 632.0 487.3 632.3 486.5 632.6 485.7 632.9 484.9 633.2 484.1 633.6 483.3 633.9 482.4 634.2 481.6 634.6 480.7 634.9 479.8 635.3 478.9 635.6 478.0 636.0 477.1 636.4 476.1 636.7 475.2 637.1 474.2 637.5 473.3 637.9 472.3 638.3 471.3 638.6 470.3 639.0 469.4 639.4 468.4 639.8 467.4 640.2 466.4 640.6 465.3 641.0 464.3 641.4 463.3 641.8 462.3 642.2 461.3 642.6 460.3 643.0 459.3 643.4 458.3 643.8 457.2 644.2 456.2 644.6 455.2 645.0 454.2 645.3 453.2 645.7 452.2 646.1 451.2 646.5 450.3 646.9 449.3 647.3 448.3 647.6 447.4 648.0 446.4 648.4 445.5 648.7 444.6 649.1 443.6 649.4 442.7 649.8 441.8 650.1 441.0 650.5 440.1 650.8 439.2 651.1 438.3 651.5 437.2 651.9 436.2 652.3 435.1 652.7 434.1 653.0 433.0 653.4 432.0 653.8 430.9 654.2 429.9 654.6 428.8 655.0 427.8 655.4 426.8 655.7 425.7 656.1 424.7 656.5 423.7 656.9 422.7 657.2 421.7 657.6 420.7 658.0 419.7 658.3 418.7 658.7 417.7 659.0 416.7 659.4 415.8 659.7 414.8 660.1 413.9 660.4 412.9 660.7 412.0 661.1 411.1 661.4 410.2 661.7 409.3 662.0 408.4 662.3 407.6 662.6 406.7 662.9 405.9 663.2 405.0 663.5 404.3 663.9 403.6 664.5 402.9 665.1 402.2 665.7 401.6 666.3 400.9 666.8 400.3 667.4 399.7 667.9Z M517.4 624.3 518.2 624.2 519.1 624.2 520.0 624.2 520.9 624.2 521.8 624.2 522.7 624.1 523.7 624.1 524.5 623.8 525.4 623.5 526.2 623.1 527.1 622.7 527.9 622.4 528.8 622.0 529.7 621.6 530.6 621.2 531.5 620.8 532.5 620.4 533.4 620.0 534.3 619.6 535.3 619.2 536.2 618.8 537.2 618.4 538.1 618.0 539.1 617.6 540.1 617.2 541.1 616.7 542.0 616.3 543.0 615.9 544.0 615.5 545.0 615.0 546.0 614.6 547.0 614.2 548.0 613.7 548.9 613.3 549.9 612.9 550.9 612.4 551.9 612.0 552.9 611.6 553.9 611.1 554.9 610.7 555.8 610.2 556.8 609.8 557.8 609.4 558.7 608.9 559.7 608.5 560.6 608.1 561.6 607.6 562.3 606.8 563.1 606.0 563.8 605.2 564.6 604.4 565.3 603.6 566.0 602.8 565.2 601.2 564.1 601.2 563.1 601.3 562.0 601.4 560.9 601.4 559.8 601.5 558.7 601.5 557.8 602.0 556.9 602.4 555.9 602.8 555.0 603.3 554.0 603.7 553.1 604.1 552.1 604.6 551.1 605.0 550.2 605.4 549.2 605.9 548.2 606.3 547.2 606.7 546.2 607.2 545.3 607.6 544.3 608.0 543.3 608.5 542.3 608.9 541.3 609.3 540.4 609.8 539.4 610.2 538.4 610.6 537.4 611.0 536.5 611.4 535.5 611.8 534.5 612.3 533.6 612.7 532.6 613.1 531.7 613.5 530.8 613.9 529.8 614.3 528.9 614.7 528.0 615.1 527.1 615.4 526.2 615.8 525.3 616.2 524.4 616.6 523.6 616.9 522.7 617.3 521.9 617.7 521.1 618.1 520.4 618.7 519.7 619.4 519.1 620.1 518.5 620.7 517.8 621.3 517.2 621.9 516.6 622.5Z M566.0 602.8 567.1 602.8 568.3 602.7 569.4 602.6 570.5 602.5 571.7 602.4 572.8 602.2 573.7 601.7 574.7 601.2 575.6 600.7 576.6 600.2 577.6 599.7 578.5 599.2 579.5 598.7 580.5 598.2 581.4 597.7 582.4 597.2 583.4 596.7 584.3 596.2 585.3 595.7 586.2 595.2 587.2 594.7 588.1 594.2 589.1 593.7 590.0 593.2 590.9 592.6 591.9 592.1 592.8 591.6 593.7 591.1 594.6 590.6 595.5 590.2 596.4 589.7 597.3 589.2 598.2 588.7 599.1 588.2 599.9 587.7 600.8 587.3 601.6 586.8 602.5 586.3 603.3 585.9 604.1 585.4 604.9 585.0 605.7 584.6 606.5 584.1 607.3 583.7 608.0 583.3 608.8 582.9 609.5 582.5 610.2 582.1 610.9 581.7 611.6 581.3 612.8 580.7 614.0 580.0 615.2 579.4 616.3 578.8 617.3 578.2 618.3 577.7 619.3 577.1 620.3 576.6 621.2 576.1 622.1 575.6 622.9 575.1 623.8 574.7 624.6 574.2 625.4 573.8 626.2 573.3 626.9 572.9 627.7 572.4 628.5 572.0 629.2 571.6 630.0 571.1 630.7 570.6 631.3 569.8 631.9 569.0 632.5 568.3 633.2 567.5 633.8 566.7 634.5 565.8 633.5 564.2 632.5 564.3 631.4 564.5 630.4 564.6 629.5 564.7 628.5 564.9 627.5 565.0 626.7 565.3 625.9 565.8 625.2 566.2 624.4 566.6 623.6 567.0 622.9 567.5 622.1 567.9 621.3 568.4 620.5 568.8 619.6 569.3 618.8 569.8 617.9 570.3 617.0 570.8 616.1 571.3 615.1 571.8 614.1 572.4 613.1 572.9 612.0 573.5 610.8 574.1 609.6 574.8 608.4 575.5 607.7 575.8 607.0 576.2 606.3 576.6 605.5 577.0 604.8 577.4 604.0 577.8 603.3 578.3 602.5 578.7 601.7 579.1 600.9 579.6 600.1 580.0 599.2 580.5 598.4 580.9 597.6 581.4 596.7 581.9 595.8 582.3 595.0 582.8 594.1 583.3 593.2 583.8 592.3 584.3 591.4 584.8 590.5 585.3 589.6 585.8 588.7 586.3 587.7 586.8 586.8 587.3 585.9 587.8 584.9 588.3 584.0 588.8 583.1 589.3 582.1 589.8 581.2 590.3 580.2 590.8 579.3 591.3 578.3 591.8 577.4 592.3 576.4 592.8 575.4 593.3 574.5 593.8 573.5 594.3 572.6 594.8 571.6 595.3 570.7 595.7 569.7 596.2 568.9 597.0 568.2 597.8 567.4 598.7 566.7 599.5 565.9 600.3 565.2 601.2Z M634.5 565.8 635.6 565.7 636.7 565.5 637.8 565.4 638.9 565.2 640.1 565.0 641.1 564.8 642.1 564.2 643.0 563.7 643.9 563.2 644.9 562.6 645.8 562.1 646.7 561.6 647.6 561.0 648.5 560.5 649.4 560.0 650.3 559.5 651.2 558.9 652.1 558.4 652.9 557.9 653.8 557.4 654.6 556.9 655.4 556.4 656.2 556.0 657.0 555.5 657.8 555.0 658.5 554.6 659.4 554.0 660.5 553.4 661.5 552.7 662.4 552.1 663.3 551.5 664.2 550.9 665.0 550.4 665.9 549.8 666.6 549.3 667.4 548.7 668.2 548.2 668.9 547.7 669.7 547.2 670.4 546.7 671.2 546.1 672.0 545.6 672.8 545.1 673.6 544.5 674.4 543.9 675.3 543.4 676.1 542.8 677.0 542.2 677.8 541.6 678.6 541.1 679.5 540.5 680.3 539.9 681.2 539.4 682.0 538.8 682.9 538.2 683.7 537.6 684.5 537.1 685.4 536.5 686.2 535.9 687.1 535.4 687.9 534.8 688.7 534.2 689.6 533.7 690.4 533.1 691.2 532.6 692.0 532.0 692.8 531.4 693.7 530.9 694.5 530.3 695.3 529.8 696.1 529.2 697.0 528.7 697.8 528.1 698.6 527.5 699.5 526.9 700.4 526.4 701.2 525.8 702.1 525.2 702.9 524.7 703.7 524.1 704.6 523.6 705.4 523.0 706.3 522.4 707.2 521.8 708.1 521.2 708.9 520.6 709.8 520.1 710.7 519.5 711.6 518.9 712.5 518.3 713.3 517.7 714.1 517.2 715.0 516.6 715.8 516.0 716.5 515.5 717.3 515.0 718.2 514.4 719.1 513.6 720.1 513.0 721.0 512.3 721.8 511.6 722.6 511.0 723.4 510.4 724.2 509.8 724.9 509.2 725.7 508.6 726.4 508.0 727.2 507.4 728.0 506.8 728.8 506.1 729.5 505.5 730.3 505.0 731.0 504.4 731.8 503.8 732.5 503.2 733.3 502.6 734.0 502.0 734.8 501.4 735.6 500.8 736.4 500.1 737.3 499.5 738.2 498.8 739.1 498.0 739.8 497.5 740.5 496.9 741.2 496.3 741.9 495.8 742.6 495.2 743.3 494.6 744.1 494.0 744.8 493.4 745.6 492.7 746.4 492.1 747.2 491.4 748.0 490.8 748.8 490.1 749.5 489.3 750.1 488.3 750.6 487.3 751.2 486.2 751.8 485.1 752.4 484.0 751.2 482.6 750.0 482.9 748.8 483.3 747.7 483.7 746.6 484.0 745.4 484.4 744.5 484.9 743.7 485.6 742.9 486.3 742.1 486.9 741.3 487.6 740.6 488.2 739.8 488.8 739.1 489.4 738.4 490.0 737.7 490.6 736.9 491.1 736.3 491.7 735.6 492.2 734.9 492.8 734.0 493.5 733.1 494.2 732.3 494.9 731.5 495.5 730.7 496.2 729.9 496.8 729.1 497.3 728.4 497.9 727.7 498.5 726.9 499.1 726.2 499.7 725.4 500.3 724.6 500.9 723.8 501.5 723.0 502.1 722.2 502.7 721.5 503.3 720.7 503.9 720.0 504.5 719.2 505.1 718.5 505.7 717.7 506.3 716.9 507.0 716.1 507.6 715.2 508.2 714.2 508.9 713.4 509.5 712.7 510.0 712.0 510.5 711.2 511.1 710.4 511.6 709.6 512.2 708.7 512.7 707.9 513.3 707.0 513.9 706.1 514.5 705.2 515.1 704.4 515.6 703.5 516.2 702.6 516.8 701.7 517.4 700.8 518.0 700.0 518.5 699.2 519.1 698.3 519.7 697.5 520.2 696.6 520.8 695.7 521.4 694.9 522.0 694.0 522.5 693.2 523.1 692.4 523.7 691.5 524.2 690.7 524.8 689.9 525.3 689.1 525.9 688.3 526.5 687.4 527.0 686.6 527.6 685.8 528.1 685.0 528.7 684.1 529.2 683.3 529.8 682.5 530.4 681.6 531.0 680.8 531.5 679.9 532.1 679.1 532.7 678.3 533.2 677.4 533.8 676.6 534.4 675.7 535.0 674.9 535.5 674.0 536.1 673.2 536.7 672.4 537.2 671.5 537.8 670.7 538.4 669.8 538.9 669.0 539.5 668.2 540.1 667.4 540.6 666.6 541.1 665.9 541.7 665.1 542.2 664.4 542.7 663.6 543.2 662.9 543.8 662.1 544.3 661.3 544.8 660.5 545.3 659.7 545.9 658.8 546.5 657.9 547.1 656.9 547.7 655.9 548.3 655.0 548.9 654.3 549.3 653.5 549.8 652.8 550.2 652.0 550.7 651.2 551.2 650.4 551.7 649.5 552.1 648.7 552.7 647.8 553.2 646.9 553.7 646.1 554.2 645.2 554.7 644.3 555.2 643.3 555.8 642.4 556.3 641.5 556.8 640.6 557.4 639.7 557.9 638.7 558.4 637.8 559.0 637.0 559.8 636.3 560.7 635.6 561.6 634.9 562.4 634.2 563.3 633.5 564.2Z M752.4 484.0 753.3 483.7 754.3 483.4 755.2 483.1 756.2 482.8 757.1 482.5 758.1 482.2 759.0 481.7 759.8 481.1 760.5 480.5 761.3 479.8 762.1 479.2 762.9 478.5 763.7 477.9 764.5 477.2 765.3 476.6 766.1 475.9 766.9 475.2 767.7 474.6 768.5 473.9 769.3 473.2 770.1 472.6 771.0 471.9 771.8 471.2 772.6 470.6 773.4 469.9 774.2 469.3 774.9 468.7 775.7 468.1 776.4 467.4 777.2 466.8 778.0 466.2 778.8 465.5 779.6 464.9 780.4 464.3 781.2 463.6 782.0 463.0 782.8 462.3 783.6 461.7 784.4 461.1 785.2 460.4 786.0 459.8 786.8 459.1 787.6 458.5 788.4 457.8 789.2 457.2 789.9 456.6 790.7 455.9 791.5 455.3 792.2 454.7 793.0 454.1 793.7 453.5 794.5 452.9 795.3 452.2 796.1 451.6 796.9 450.9 797.7 450.2 798.5 449.6 799.2 448.9 800.0 448.3 800.7 447.6 801.5 447.0 802.2 446.4 803.0 445.8 803.7 445.1 804.4 444.5 805.2 443.9 805.9 443.3 806.6 442.6 807.4 442.0 808.1 441.4 808.9 440.7 809.7 440.1 810.4 439.4 811.2 438.7 812.0 438.1 812.9 437.4 813.6 436.8 814.3 436.1 815.1 435.5 815.8 434.9 816.6 434.2 817.4 433.6 818.2 432.9 819.0 432.2 819.8 431.5 820.6 430.9 821.4 430.2 822.2 429.5 823.0 428.8 823.8 428.1 824.6 427.4 825.5 426.8 826.3 426.1 827.1 425.4 827.9 424.7 828.6 424.1 829.4 423.4 830.2 422.8 830.9 422.2 831.7 421.5 832.4 420.9 833.1 420.3 833.8 419.8 834.6 419.1 835.5 418.4 836.3 417.7 837.1 417.0 837.9 416.3 838.7 415.7 839.5 415.0 840.2 414.4 840.9 413.8 841.6 413.2 842.4 412.6 843.1 412.0 843.8 411.4 844.5 410.8 845.3 410.2 846.0 409.6 846.8 408.9 847.6 408.3 848.4 407.6 849.3 406.9 850.1 406.2 850.8 405.6 851.5 405.1 852.1 404.5 852.7 404.0 853.3 403.5 853.9 403.0 854.5 402.6 855.0 402.1 855.6 401.6 856.2 401.1 856.8 400.6 857.4 400.1 858.0 399.5 858.7 399.0 859.4 398.4 860.1 397.8 860.8 397.2 861.6 396.5 862.5 395.8 863.3 395.1 864.3 394.3 865.3 393.5 866.2 392.5 867.0 391.1 867.8 389.6 868.6 388.0 868.5 386.5 867.0 386.1 865.3 386.6 863.7 387.1 862.2 387.6 861.0 388.3 860.0 389.2 859.1 389.9 858.2 390.7 857.3 391.4 856.5 392.1 855.8 392.7 855.1 393.3 854.4 393.9 853.7 394.4 853.1 394.9 852.5 395.5 851.9 396.0 851.3 396.5 850.7 396.9 850.1 397.4 849.6 397.9 849.0 398.4 848.4 398.9 847.8 399.4 847.2 399.9 846.5 400.5 845.9 401.0 845.0 401.8 844.1 402.5 843.3 403.1 842.5 403.8 841.8 404.4 841.0 405.1 840.3 405.7 839.5 406.3 838.8 406.9 838.1 407.5 837.4 408.1 836.6 408.7 835.9 409.3 835.2 409.9 834.4 410.5 833.6 411.2 832.8 411.8 832.0 412.5 831.2 413.2 830.3 414.0 829.5 414.6 828.8 415.2 828.1 415.8 827.4 416.4 826.6 417.0 825.9 417.7 825.1 418.3 824.3 419.0 823.5 419.6 822.8 420.3 822.0 421.0 821.1 421.6 820.3 422.3 819.5 423.0 818.7 423.7 817.9 424.4 817.1 425.1 816.3 425.7 815.5 426.4 814.7 427.1 813.9 427.8 813.1 428.4 812.3 429.1 811.5 429.7 810.8 430.4 810.0 431.0 809.3 431.6 808.5 432.2 807.7 432.9 806.9 433.6 806.1 434.3 805.3 435.0 804.5 435.6 803.8 436.3 803.0 436.9 802.3 437.5 801.5 438.2 800.8 438.8 800.1 439.4 799.4 440.0 798.6 440.7 797.9 441.3 797.2 441.9 796.4 442.5 795.7 443.2 794.9 443.8 794.2 444.4 793.4 445.1 792.6 445.7 791.8 446.4 791.0 447.1 790.2 447.7 789.5 448.3 788.8 448.9 788.0 449.5 787.3 450.1 786.5 450.7 785.7 451.4 785.0 452.0 784.2 452.6 783.4 453.3 782.6 453.9 781.8 454.5 781.0 455.2 780.2 455.8 779.4 456.5 778.6 457.1 777.8 457.8 777.0 458.4 776.2 459.0 775.4 459.7 774.6 460.3 773.8 461.0 773.0 461.6 772.2 462.2 771.5 462.9 770.7 463.5 769.9 464.1 769.2 464.7 768.4 465.4 767.5 466.0 766.7 466.7 765.9 467.4 765.1 468.1 764.3 468.7 763.4 469.4 762.6 470.1 761.8 470.7 761.0 471.4 760.2 472.1 759.4 472.7 758.6 473.4 757.8 474.0 757.0 474.7 756.3 475.3 755.5 475.9 754.7 476.6 754.1 477.3 753.6 478.2 753.1 479.1 752.6 480.0 752.1 480.9 751.7 481.7 751.2 482.6Z M869.1 387.2 869.8 387.0 870.6 386.8 871.4 386.5 872.2 386.3 873.0 386.0 873.9 385.7 874.8 385.4 875.6 385.0 876.3 384.5 877.0 383.9 877.7 383.3 878.4 382.7 879.2 382.1 880.0 381.5 880.7 380.8 881.5 380.2 882.3 379.5 883.1 378.9 883.9 378.2 884.8 377.6 885.6 376.9 886.4 376.2 887.3 375.5 888.1 374.8 889.0 374.1 889.9 373.4 890.7 372.7 891.6 372.0 892.5 371.3 893.4 370.5 894.2 369.8 895.1 369.1 896.0 368.4 896.9 367.7 897.8 366.9 898.7 366.2 899.6 365.5 900.5 364.8 901.3 364.1 902.2 363.3 903.1 362.6 904.0 361.9 904.8 361.2 905.7 360.5 906.5 359.8 907.4 359.1 908.2 358.4 909.1 357.8 909.9 357.1 910.7 356.4 911.5 355.8 912.3 355.1 913.1 354.5 913.9 353.8 914.7 353.2 915.4 352.6 916.1 352.0 916.9 351.4 917.6 350.8 918.3 350.2 919.0 349.7 919.6 349.1 920.3 348.6 920.9 348.1 921.5 347.6 922.1 347.1 923.3 346.1 924.4 345.2 925.5 344.3 926.5 343.5 927.5 342.6 928.5 341.8 929.5 341.0 930.4 340.2 931.3 339.5 932.2 338.7 933.1 338.0 933.9 337.3 934.7 336.6 935.5 335.9 936.3 335.3 937.1 334.7 937.8 334.0 938.5 333.4 939.2 332.8 939.9 332.3 940.6 331.7 941.3 331.1 941.9 330.6 942.5 330.1 943.2 329.5 943.8 329.0 944.4 328.5 945.0 328.0 945.6 327.5 946.1 327.0 946.7 326.6 947.3 326.1 947.8 325.6 948.7 324.9 949.9 323.9 950.9 323.1 951.9 322.3 952.7 321.6 953.5 321.0 954.3 320.4 955.0 319.8 955.6 319.3 956.3 318.8 956.9 318.3 957.6 317.8 958.2 317.3 958.9 316.7 959.7 316.1 960.5 315.5 961.3 314.9 962.1 314.3 962.9 313.6 963.7 313.0 964.6 312.3 965.4 311.7 966.2 311.1 967.0 310.4 967.9 309.8 968.6 309.2 969.4 308.6 970.2 308.0 970.9 307.5 971.7 306.9 972.5 306.3 973.4 305.7 974.2 305.0 975.0 304.4 975.8 303.9 976.6 303.3 977.4 302.7 978.1 302.2 978.9 301.7 979.7 301.1 980.5 300.5 981.2 299.8 981.9 298.9 982.6 298.1 983.4 297.2 984.2 296.3 985.0 295.4 985.8 294.5 986.5 293.7 987.2 292.9 987.8 292.3 988.3 291.7 988.7 291.2 988.5 291.0 987.9 291.2 987.2 291.4 986.4 291.7 985.4 292.0 984.3 292.4 983.2 292.7 982.1 293.1 981.0 293.5 979.8 293.9 978.7 294.3 977.7 294.7 976.7 295.0 975.8 295.6 975.0 296.2 974.3 296.7 973.5 297.3 972.7 297.9 971.9 298.4 971.1 299.0 970.2 299.6 969.4 300.3 968.5 301.0 967.6 301.6 966.9 302.1 966.2 302.7 965.4 303.3 964.6 303.9 963.8 304.5 963.0 305.1 962.1 305.7 961.3 306.4 960.5 307.0 959.6 307.7 958.8 308.3 958.0 309.0 957.2 309.6 956.3 310.2 955.5 310.9 954.8 311.4 954.1 312.0 953.4 312.5 952.8 313.0 952.1 313.5 951.5 314.1 950.8 314.6 950.1 315.2 949.3 315.8 948.5 316.4 947.6 317.1 946.7 317.9 945.6 318.8 944.5 319.7 943.6 320.4 943.0 320.9 942.4 321.4 941.9 321.9 941.3 322.4 940.7 322.9 940.1 323.4 939.5 323.9 938.8 324.4 938.2 324.9 937.6 325.5 936.9 326.0 936.3 326.6 935.6 327.1 934.9 327.7 934.2 328.3 933.5 328.9 932.8 329.5 932.0 330.2 931.2 330.8 930.4 331.5 929.6 332.2 928.8 332.9 927.9 333.6 927.0 334.3 926.1 335.1 925.2 335.9 924.2 336.7 923.3 337.5 922.2 338.3 921.2 339.2 920.1 340.1 919.0 341.0 917.9 341.9 917.3 342.4 916.7 342.9 916.0 343.4 915.4 344.0 914.7 344.5 914.0 345.1 913.3 345.6 912.6 346.2 911.9 346.8 911.2 347.4 910.4 348.0 909.7 348.6 908.9 349.3 908.1 349.9 907.3 350.6 906.5 351.2 905.7 351.9 904.8 352.6 904.0 353.2 903.2 353.9 902.3 354.6 901.5 355.3 900.6 356.0 899.7 356.7 898.9 357.4 898.0 358.1 897.1 358.9 896.2 359.6 895.3 360.3 894.5 361.0 893.6 361.7 892.7 362.5 891.8 363.2 890.9 363.9 890.0 364.6 889.1 365.4 888.3 366.1 887.4 366.8 886.5 367.5 885.6 368.2 884.8 368.9 883.9 369.6 883.0 370.3 882.2 371.0 881.4 371.7 880.5 372.4 879.7 373.0 878.9 373.7 878.1 374.4 877.3 375.0 876.5 375.6 875.7 376.3 875.0 376.9 874.2 377.5 873.5 378.1 872.7 378.7 872.0 379.3 871.3 379.8 870.8 380.6 870.3 381.4 869.9 382.2 869.5 382.9 869.1 383.7 868.7 384.4 868.3 385.1 867.9 385.8Z"/>
<path d="M160.0 744.3 160.5 744.2 161.0 744.2 162.0 744.0 164.0 743.5 167.5 742.5 168.4 742.2 169.4 741.9 170.5 741.6 171.6 741.3 172.9 740.9 174.2 740.6 175.5 740.2 176.9 739.8 178.4 739.4 179.9 738.9 181.4 738.5 182.9 738.0 184.5 737.5 186.1 737.1 187.8 736.6 189.4 736.1 191.0 735.6 192.7 735.1 194.3 734.6 195.9 734.1 197.5 733.7 199.1 733.2 200.6 732.7 202.1 732.2 203.6 731.8 205.0 731.3 206.5 730.8 208.0 730.3 209.5 729.9 211.0 729.4 212.5 728.9 214.0 728.4 215.5 727.9 217.0 727.4 218.5 726.8 220.0 726.3 221.4 725.8 222.9 725.3 224.4 724.8 225.8 724.3 227.3 723.8 228.7 723.3 230.1 722.8 231.5 722.3 232.8 721.8 234.2 721.3 235.5 720.9 236.7 720.4 238.0 719.9 239.2 719.5 240.6 719.0 242.3 718.3 243.9 717.7 245.5 717.0 247.1 716.4 248.5 715.8 250.0 715.2 251.3 714.6 252.7 714.0 254.0 713.4 255.3 712.9 256.6 712.3 257.9 711.7 259.2 711.2 260.4 710.7 261.7 710.1 263.0 709.6 264.6 709.0 266.1 708.4 267.7 707.8 269.3 707.2 270.9 706.6 272.5 706.1 274.0 705.5 275.4 705.0 276.9 704.5 278.2 704.0 279.5 703.5 280.7 703.0 281.8 702.5 281.8 707.2 279.9 707.8 278.2 708.4 276.6 708.9 275.1 709.4 273.7 709.8 272.5 710.3 271.2 710.7 270.0 711.1 268.8 711.5 267.6 711.9 266.3 712.4 265.0 712.8 263.5 713.3 262.1 713.8 260.8 714.3 259.5 714.7 258.2 715.2 256.9 715.7 255.6 716.2 254.3 716.7 252.9 717.2 251.5 717.7 250.1 718.2 248.7 718.7 247.2 719.2 245.6 719.7 244.0 720.3 242.3 720.8 240.6 721.4 239.2 721.9 237.9 722.2 236.7 722.6 235.3 723.0 234.0 723.4 232.6 723.9 231.2 724.3 229.8 724.7 228.3 725.1 226.9 725.5 225.4 726.0 223.9 726.4 222.4 726.8 220.9 727.3 219.3 727.7 217.8 728.1 216.3 728.6 214.7 729.0 213.2 729.5 211.6 729.9 210.1 730.3 208.6 730.8 207.0 731.2 205.5 731.7 204.0 732.1 202.6 732.5 201.1 732.9 199.5 733.4 197.9 733.8 196.3 734.3 194.7 734.8 193.0 735.2 191.4 735.7 189.7 736.2 188.1 736.7 186.4 737.1 184.8 737.6 183.2 738.1 181.6 738.5 180.0 739.0 178.5 739.4 177.1 739.8 175.6 740.2 174.3 740.6 172.9 741.0 171.7 741.3 170.5 741.7 169.4 742.0 168.4 742.2 167.5 742.5 164.0 743.5 162.0 743.9 161.0 744.1 160.5 744.2 160.0 744.3Z"/>
</g>
<g fill="#231f20" shape-rendering="crispEdges"><rect x="280" y="695" width="5" height="18"/><rect x="988" y="600" width="3" height="5"/></g>
</svg>
</body></html>
